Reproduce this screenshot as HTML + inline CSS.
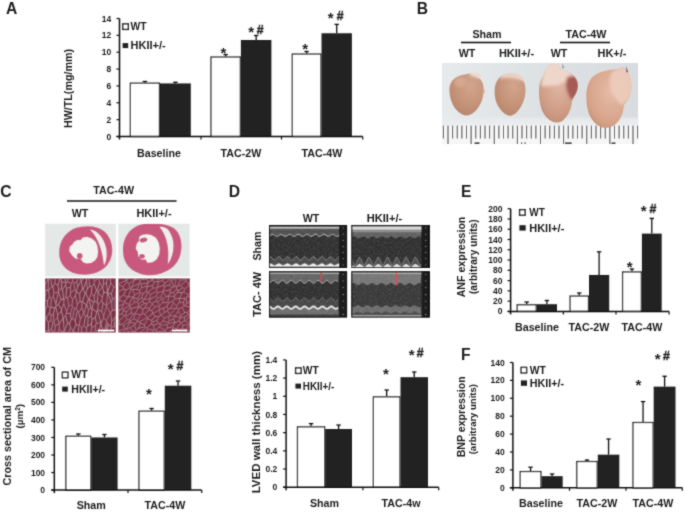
<!DOCTYPE html>
<html><head><meta charset="utf-8"><title>Figure</title>
<style>
html,body{margin:0;padding:0;background:#fff;}
body{width:685px;height:520px;overflow:hidden;font-family:"Liberation Sans",Arial,sans-serif;}
svg{display:block}
</style></head><body>
<svg width="685" height="520" viewBox="0 0 685 520" font-family="Liberation Sans, Arial, sans-serif">
<defs><filter id="soft" x="0" y="0" width="100%" height="100%" filterUnits="userSpaceOnUse"><feConvolveMatrix order="3" kernelMatrix="0.03 0.09 0.03 0.09 0.52 0.09 0.03 0.09 0.03" edgeMode="duplicate" preserveAlpha="false"/></filter></defs>
<rect width="685" height="520" fill="#fff"/>
<g filter="url(#soft)">
<text transform="translate(6 13.8) scale(0.95 1)" font-size="16.5" font-weight="bold" fill="#1c1c1c">A</text>
<line x1="144.9" y1="82.55714285714285" x2="144.9" y2="81.5" stroke="#111" stroke-width="1.3"/>
<line x1="142.70000000000002" y1="81.5" x2="147.1" y2="81.5" stroke="#111" stroke-width="1.3"/>
<rect x="130.40" y="83.16" width="29.00" height="53.34" fill="#fff" stroke="#111" stroke-width="1.2"/>
<line x1="175.4" y1="83.4" x2="175.4" y2="82.3" stroke="#111" stroke-width="1.3"/>
<line x1="173.20000000000002" y1="82.3" x2="177.6" y2="82.3" stroke="#111" stroke-width="1.3"/>
<rect x="160.00" y="83.40" width="30.80" height="53.10" fill="#242424" stroke="#242424" stroke-width="0"/>
<line x1="225.65" y1="56.42857142857143" x2="225.65" y2="54.5" stroke="#111" stroke-width="1.3"/>
<line x1="223.45000000000002" y1="54.5" x2="227.85" y2="54.5" stroke="#111" stroke-width="1.3"/>
<rect x="211.00" y="57.03" width="29.30" height="79.47" fill="#fff" stroke="#111" stroke-width="1.2"/>
<line x1="256.15" y1="39.99285714285715" x2="256.15" y2="35.5" stroke="#111" stroke-width="1.3"/>
<line x1="253.95" y1="35.5" x2="258.34999999999997" y2="35.5" stroke="#111" stroke-width="1.3"/>
<rect x="240.90" y="39.99" width="30.50" height="96.51" fill="#242424" stroke="#242424" stroke-width="0"/>
<line x1="306.6" y1="53.47857142857143" x2="306.6" y2="51.5" stroke="#111" stroke-width="1.3"/>
<line x1="304.40000000000003" y1="51.5" x2="308.8" y2="51.5" stroke="#111" stroke-width="1.3"/>
<rect x="292.30" y="54.08" width="28.60" height="82.42" fill="#fff" stroke="#111" stroke-width="1.2"/>
<line x1="336.7" y1="33.25" x2="336.7" y2="24.4" stroke="#111" stroke-width="1.3"/>
<line x1="334.5" y1="24.4" x2="338.9" y2="24.4" stroke="#111" stroke-width="1.3"/>
<rect x="321.50" y="33.25" width="30.40" height="103.25" fill="#242424" stroke="#242424" stroke-width="0"/>
<line x1="119.5" y1="18.5" x2="119.5" y2="139.5" stroke="#111" stroke-width="1.5"/>
<line x1="116.5" y1="136.5" x2="362.7" y2="136.5" stroke="#111" stroke-width="1.5"/>
<line x1="116.5" y1="136.5" x2="119.5" y2="136.5" stroke="#111" stroke-width="1.2"/>
<text x="111.3" y="139.56" font-size="8.5" font-weight="bold" text-anchor="end" fill="#1c1c1c" >0</text>
<line x1="116.5" y1="119.64285714285714" x2="119.5" y2="119.64285714285714" stroke="#111" stroke-width="1.2"/>
<text x="111.3" y="122.70285714285714" font-size="8.5" font-weight="bold" text-anchor="end" fill="#1c1c1c" >2</text>
<line x1="116.5" y1="102.78571428571428" x2="119.5" y2="102.78571428571428" stroke="#111" stroke-width="1.2"/>
<text x="111.3" y="105.84571428571428" font-size="8.5" font-weight="bold" text-anchor="end" fill="#1c1c1c" >4</text>
<line x1="116.5" y1="85.92857142857143" x2="119.5" y2="85.92857142857143" stroke="#111" stroke-width="1.2"/>
<text x="111.3" y="88.98857142857143" font-size="8.5" font-weight="bold" text-anchor="end" fill="#1c1c1c" >6</text>
<line x1="116.5" y1="69.07142857142857" x2="119.5" y2="69.07142857142857" stroke="#111" stroke-width="1.2"/>
<text x="111.3" y="72.13142857142857" font-size="8.5" font-weight="bold" text-anchor="end" fill="#1c1c1c" >8</text>
<line x1="116.5" y1="52.21428571428571" x2="119.5" y2="52.21428571428571" stroke="#111" stroke-width="1.2"/>
<text x="111.3" y="55.27428571428571" font-size="8.5" font-weight="bold" text-anchor="end" fill="#1c1c1c" >10</text>
<line x1="116.5" y1="35.35714285714286" x2="119.5" y2="35.35714285714286" stroke="#111" stroke-width="1.2"/>
<text x="111.3" y="38.41714285714286" font-size="8.5" font-weight="bold" text-anchor="end" fill="#1c1c1c" >12</text>
<line x1="116.5" y1="18.5" x2="119.5" y2="18.5" stroke="#111" stroke-width="1.2"/>
<text x="111.3" y="21.56" font-size="8.5" font-weight="bold" text-anchor="end" fill="#1c1c1c" >14</text>
<line x1="201" y1="136.5" x2="201" y2="139.5" stroke="#111" stroke-width="1.2"/>
<line x1="281.5" y1="136.5" x2="281.5" y2="139.5" stroke="#111" stroke-width="1.2"/>
<line x1="362.7" y1="136.5" x2="362.7" y2="139.5" stroke="#111" stroke-width="1.2"/>
<text transform="translate(71.8 88.5) rotate(-90)" font-size="10.7" font-weight="bold" text-anchor="middle" fill="#1c1c1c">HW/TL(mg/mm)</text>
<text x="159" y="157" font-size="10.7" font-weight="bold" text-anchor="middle" fill="#1c1c1c" >Baseline</text>
<text x="241" y="157" font-size="10.7" font-weight="bold" text-anchor="middle" fill="#1c1c1c" >TAC-2W</text>
<text x="322" y="157" font-size="10.7" font-weight="bold" text-anchor="middle" fill="#1c1c1c" >TAC-4W</text>
<rect x="122.80" y="23.90" width="5.50" height="5.50" fill="#fff" stroke="#111" stroke-width="1.35"/>
<text x="130.5" y="30" font-size="10.3" font-weight="bold" text-anchor="start" fill="#1c1c1c" >WT</text>
<rect x="122.60" y="43.10" width="5.60" height="5.00" fill="#242424" stroke="#242424" stroke-width="0"/>
<text x="130.5" y="49" font-size="11" font-weight="bold" text-anchor="start" fill="#1c1c1c" >HKII+/-</text>
<text x="223.3" y="58.3" font-size="15" font-weight="bold" text-anchor="middle" fill="#1c1c1c" >*</text>
<text x="251.1" y="36.9" font-size="15" font-weight="bold" text-anchor="middle" fill="#1c1c1c" >*</text>
<text x="260.2" y="33.6" font-size="12.3" font-weight="bold" text-anchor="middle" fill="#1c1c1c" stroke="#222" stroke-width="0.35">#</text>
<text x="305.2" y="54.2" font-size="15" font-weight="bold" text-anchor="middle" fill="#1c1c1c" >*</text>
<text x="330.6" y="23.4" font-size="15" font-weight="bold" text-anchor="middle" fill="#1c1c1c" >*</text>
<text x="340.1" y="20.1" font-size="12.3" font-weight="bold" text-anchor="middle" fill="#1c1c1c" stroke="#222" stroke-width="0.35">#</text>
<text transform="translate(416.8 13.8) scale(0.95 1)" font-size="16.5" font-weight="bold" fill="#1c1c1c">B</text>
<text x="487" y="37.5" font-size="10.7" font-weight="bold" text-anchor="middle" fill="#1c1c1c" >Sham</text>
<line x1="461" y1="42.5" x2="511" y2="42.5" stroke="#111" stroke-width="1.5"/>
<text x="586" y="37.5" font-size="10.7" font-weight="bold" text-anchor="middle" fill="#1c1c1c" >TAC-4W</text>
<line x1="560" y1="42.5" x2="610" y2="42.5" stroke="#111" stroke-width="1.5"/>
<text x="467" y="57.3" font-size="10.7" font-weight="bold" text-anchor="middle" fill="#1c1c1c" >WT</text>
<text x="516.5" y="57.3" font-size="11" font-weight="bold" text-anchor="middle" fill="#1c1c1c" >HKII+/-</text>
<text x="559" y="57.3" font-size="10.7" font-weight="bold" text-anchor="middle" fill="#1c1c1c" >WT</text>
<text x="612" y="57.3" font-size="11" font-weight="bold" text-anchor="middle" fill="#1c1c1c" >HK+/-</text>
<defs>
<clipPath id="clipB"><rect x="442" y="62.8" width="196.3" height="81.2"/></clipPath>
<filter id="blurB" x="-5%" y="-5%" width="110%" height="110%"><feGaussianBlur stdDeviation="0.55"/></filter>
<filter id="blurB2" x="-20%" y="-20%" width="140%" height="140%"><feGaussianBlur stdDeviation="1.6"/></filter>
<linearGradient id="bgB" x1="0" y1="0" x2="1" y2="0"><stop offset="0" stop-color="#e6eaed"/><stop offset="0.5" stop-color="#dde1e4"/><stop offset="1" stop-color="#d9dcdf"/></linearGradient>
<radialGradient id="h1" cx="0.62" cy="0.3" r="0.75"><stop offset="0" stop-color="#d3a58c"/><stop offset="0.55" stop-color="#c6957b"/><stop offset="1" stop-color="#b88569"/></radialGradient>
<radialGradient id="h3" cx="0.5" cy="0.35" r="0.75"><stop offset="0" stop-color="#e0b7a4"/><stop offset="0.55" stop-color="#d2a08a"/><stop offset="1" stop-color="#bf8a70"/></radialGradient>
<radialGradient id="h4" cx="0.55" cy="0.4" r="0.75"><stop offset="0" stop-color="#e6bca7"/><stop offset="0.6" stop-color="#d9a68d"/><stop offset="1" stop-color="#c89073"/></radialGradient>
</defs>
<g clip-path="url(#clipB)">
<rect x="442" y="62.8" width="196.3" height="81.2" fill="url(#bgB)"/>
<rect x="442" y="123.5" width="196.3" height="21" fill="#f6f6f6"/>
<g filter="url(#blurB2)"><rect x="440" y="118" width="200" height="7" fill="#e9ebec"/></g>
<g filter="url(#blurB)">
<line x1="443.38" y1="125.6" x2="443.38" y2="138.5" stroke="#383838" stroke-width="1.0"/>
<line x1="448.00" y1="125.6" x2="448.00" y2="144" stroke="#383838" stroke-width="1.0"/>
<line x1="452.62" y1="125.6" x2="452.62" y2="138.5" stroke="#383838" stroke-width="1.0"/>
<line x1="457.25" y1="125.6" x2="457.25" y2="138.5" stroke="#383838" stroke-width="1.0"/>
<line x1="461.88" y1="125.6" x2="461.88" y2="138.5" stroke="#383838" stroke-width="1.0"/>
<line x1="466.50" y1="125.6" x2="466.50" y2="138.5" stroke="#383838" stroke-width="1.0"/>
<line x1="471.12" y1="125.6" x2="471.12" y2="144" stroke="#383838" stroke-width="1.0"/>
<line x1="475.75" y1="125.6" x2="475.75" y2="138.5" stroke="#383838" stroke-width="1.0"/>
<line x1="480.38" y1="125.6" x2="480.38" y2="138.5" stroke="#383838" stroke-width="1.0"/>
<line x1="485.00" y1="125.6" x2="485.00" y2="138.5" stroke="#383838" stroke-width="1.0"/>
<line x1="489.62" y1="125.6" x2="489.62" y2="138.5" stroke="#383838" stroke-width="1.0"/>
<line x1="494.25" y1="125.6" x2="494.25" y2="144" stroke="#383838" stroke-width="1.0"/>
<line x1="498.88" y1="125.6" x2="498.88" y2="138.5" stroke="#383838" stroke-width="1.0"/>
<line x1="503.50" y1="125.6" x2="503.50" y2="138.5" stroke="#383838" stroke-width="1.0"/>
<line x1="508.12" y1="125.6" x2="508.12" y2="138.5" stroke="#383838" stroke-width="1.0"/>
<line x1="512.75" y1="125.6" x2="512.75" y2="138.5" stroke="#383838" stroke-width="1.0"/>
<line x1="517.38" y1="125.6" x2="517.38" y2="144" stroke="#383838" stroke-width="1.0"/>
<line x1="522.00" y1="125.6" x2="522.00" y2="138.5" stroke="#383838" stroke-width="1.0"/>
<line x1="526.62" y1="125.6" x2="526.62" y2="138.5" stroke="#383838" stroke-width="1.0"/>
<line x1="531.25" y1="125.6" x2="531.25" y2="138.5" stroke="#383838" stroke-width="1.0"/>
<line x1="535.88" y1="125.6" x2="535.88" y2="138.5" stroke="#383838" stroke-width="1.0"/>
<line x1="540.50" y1="125.6" x2="540.50" y2="144" stroke="#383838" stroke-width="1.0"/>
<line x1="545.12" y1="125.6" x2="545.12" y2="138.5" stroke="#383838" stroke-width="1.0"/>
<line x1="549.75" y1="125.6" x2="549.75" y2="138.5" stroke="#383838" stroke-width="1.0"/>
<line x1="554.38" y1="125.6" x2="554.38" y2="138.5" stroke="#383838" stroke-width="1.0"/>
<line x1="559.00" y1="125.6" x2="559.00" y2="138.5" stroke="#383838" stroke-width="1.0"/>
<line x1="563.62" y1="125.6" x2="563.62" y2="144" stroke="#383838" stroke-width="1.0"/>
<line x1="568.25" y1="125.6" x2="568.25" y2="138.5" stroke="#383838" stroke-width="1.0"/>
<line x1="572.88" y1="125.6" x2="572.88" y2="138.5" stroke="#383838" stroke-width="1.0"/>
<line x1="577.50" y1="125.6" x2="577.50" y2="138.5" stroke="#383838" stroke-width="1.0"/>
<line x1="582.12" y1="125.6" x2="582.12" y2="138.5" stroke="#383838" stroke-width="1.0"/>
<line x1="586.75" y1="125.6" x2="586.75" y2="144" stroke="#383838" stroke-width="1.0"/>
<line x1="591.38" y1="125.6" x2="591.38" y2="138.5" stroke="#383838" stroke-width="1.0"/>
<line x1="596.00" y1="125.6" x2="596.00" y2="138.5" stroke="#383838" stroke-width="1.0"/>
<line x1="600.62" y1="125.6" x2="600.62" y2="138.5" stroke="#383838" stroke-width="1.0"/>
<line x1="605.25" y1="125.6" x2="605.25" y2="138.5" stroke="#383838" stroke-width="1.0"/>
<line x1="609.88" y1="125.6" x2="609.88" y2="144" stroke="#383838" stroke-width="1.0"/>
<line x1="614.50" y1="125.6" x2="614.50" y2="138.5" stroke="#383838" stroke-width="1.0"/>
<line x1="619.12" y1="125.6" x2="619.12" y2="138.5" stroke="#383838" stroke-width="1.0"/>
<line x1="623.75" y1="125.6" x2="623.75" y2="138.5" stroke="#383838" stroke-width="1.0"/>
<line x1="628.38" y1="125.6" x2="628.38" y2="138.5" stroke="#383838" stroke-width="1.0"/>
<line x1="633.00" y1="125.6" x2="633.00" y2="144" stroke="#383838" stroke-width="1.0"/>
<line x1="637.62" y1="125.6" x2="637.62" y2="138.5" stroke="#383838" stroke-width="1.0"/>
<rect x="474.5" y="142.3" width="5" height="2" fill="#444"/>
<rect x="477.5" y="142.3" width="1.2" height="2" fill="#444"/>
<rect x="521" y="142.3" width="1.2" height="2" fill="#444"/>
<rect x="524.5" y="142.3" width="1.2" height="2" fill="#444"/>
<rect x="565" y="142.3" width="6" height="2" fill="#444"/>
<rect x="570.5" y="142.3" width="1.2" height="2" fill="#444"/>
<rect x="611.5" y="142.3" width="4" height="2" fill="#444"/>
</g>
<g filter="url(#blurB)">
<clipPath id="c1"><path d="M465,74.4 C469,72.8 474,73 476.5,75.8 C481.5,78.5 484,84 483.7,91 C483.5,99 480,106.5 475.5,111 C472,114.5 469,115.6 466.5,115.5 C461,115 455.5,110.5 452.5,104 C450.2,99 449.3,94 449.4,89 C449.6,80.5 456,75.5 465,74.4 Z"/></clipPath><clipPath id="c2"><path d="M508,73.6 C514,72.6 519.5,75 522,78.5 C525,82 526,88 525.4,93 C524.6,101 521,108 517,112 C514.5,114.5 512.5,115.8 510,115.8 C505,115.3 500,110 497,104 C495,99.5 494.5,95 494.6,90.5 C494.8,81 500,74.6 508,73.6 Z"/></clipPath>
<path d="M465,74.4 C469,72.8 474,73 476.5,75.8 C481.5,78.5 484,84 483.7,91 C483.5,99 480,106.5 475.5,111 C472,114.5 469,115.6 466.5,115.5 C461,115 455.5,110.5 452.5,104 C450.2,99 449.3,94 449.4,89 C449.6,80.5 456,75.5 465,74.4 Z" fill="url(#h1)"/>
<g clip-path="url(#c1)"><g filter="url(#blurB2)">
<path d="M447,95 C450,108 458,116 468,118 L445,120Z" fill="#b07c62"/>
<path d="M470,70 L482,72 L484,80 C479,78 474,76.5 470,76Z" fill="#f0dcd4"/>
<ellipse cx="460" cy="82" rx="6" ry="5" fill="#d8ac95" opacity="0.8"/>
</g></g>
<path d="M471.5,74.2 C473,72 477.5,71.8 480,74.5 C481.5,76 481,78 479.5,78.5 C477,76.5 474,75 471.5,74.2Z" fill="#eedad2"/>
<path d="M482.5,88 C484.5,88.5 485.3,91 484.2,93.5 C483.6,92 483.2,90 482.5,88Z" fill="#d9a596"/>
<path d="M508,73.6 C514,72.6 519.5,75 522,78.5 C525,82 526,88 525.4,93 C524.6,101 521,108 517,112 C514.5,114.5 512.5,115.8 510,115.8 C505,115.3 500,110 497,104 C495,99.5 494.5,95 494.6,90.5 C494.8,81 500,74.6 508,73.6 Z" fill="url(#h1)"/>
<g clip-path="url(#c2)"><g filter="url(#blurB2)">
<path d="M492,96 C495,108 502,116 511,118 L490,120Z" fill="#b07c62"/>
<path d="M500,70 L524,71 L526,82 C519,78.5 509,77 500,78.5Z" fill="#ecd2c6"/>
</g></g>
<path d="M503,75.3 C508,72 517,72.2 521.5,76.5 C523.5,78.5 524.5,80.5 524,81.5 C519,77.5 511,76 503,75.3Z" fill="#ead0c5"/>
<clipPath id="c3"><path d="M552.5,64 C556,63.3 559,65.5 561,69.5 C566,70.5 571,72.5 574.5,76.5 C578,80 578.6,86 577,91 C575.5,95.5 573,98 572,101 C571.5,109 568,116 563.5,120 C561,122.2 558.5,122.8 555.5,122.5 C550,121.6 544.5,116.5 541.8,109.5 C539.8,104 539,98 539,93 C538.7,86 540,80 543.5,76 C545,70 548,65 552.5,64 Z"/></clipPath><clipPath id="c4"><path d="M620,68.2 C624,67 628,69 628.5,73 C631,78 632,85 631.2,91 C630,97 627,101.5 624,105 C623.5,113 620.5,121 614.5,125 C611,127.6 607.5,128.2 604,127.7 C598,126.8 592,121.5 589,113.5 C587,107.5 586.2,101 586.3,96 C586.2,88 588.5,81 592.5,77 C598,71 610,70 620,68.2 Z"/></clipPath>
<path d="M552.5,64 C556,63.3 559,65.5 561,69.5 C566,70.5 571,72.5 574.5,76.5 C578,80 578.6,86 577,91 C575.5,95.5 573,98 572,101 C571.5,109 568,116 563.5,120 C561,122.2 558.5,122.8 555.5,122.5 C550,121.6 544.5,116.5 541.8,109.5 C539.8,104 539,98 539,93 C538.7,86 540,80 543.5,76 C545,70 548,65 552.5,64 Z" fill="url(#h3)"/>
<g clip-path="url(#c3)"><g filter="url(#blurB2)">
<path d="M545,60 L566,60 L573,74 C566,84 556,87 541,86 Z" fill="#efd6cb"/>
<path d="M567,77 C572,75 578,77 580,83 C581,89 577,96 572,100 C567.5,95 565,86 567,77 Z" fill="#a55a52"/>
<path d="M538,100 C541,112 548,121 556,124 L536,126Z" fill="#b27e66"/>
</g></g>
<path d="M620,68.2 C624,67 628,69 628.5,73 C631,78 632,85 631.2,91 C630,97 627,101.5 624,105 C623.5,113 620.5,121 614.5,125 C611,127.6 607.5,128.2 604,127.7 C598,126.8 592,121.5 589,113.5 C587,107.5 586.2,101 586.3,96 C586.2,88 588.5,81 592.5,77 C598,71 610,70 620,68.2 Z" fill="url(#h4)"/>
<g clip-path="url(#c4)"><g filter="url(#blurB2)">
<path d="M612,72 C618,66 628,64 634,70 L634,92 C630,98 626,102 622,105 C616,101 611,93 610,85 C609.5,80 610,75 612,72Z" fill="#efcfbf" opacity="0.85"/>
<path d="M585,100 C588,115 596,126 605,129 L583,131Z" fill="#c08a6c"/>
</g></g>
<path d="M626,66 L628.2,72 L626.5,72.5Z" fill="#556"/>
<path d="M562.5,63 L564,68 L562.5,68.5Z" fill="#778"/>
</g>
</g>
<text transform="translate(0.2 196.9) scale(0.95 1)" font-size="16.5" font-weight="bold" fill="#1c1c1c">C</text>
<text x="113.6" y="194" font-size="10.7" font-weight="bold" text-anchor="middle" fill="#1c1c1c" >TAC-4W</text>
<line x1="67" y1="201" x2="176.5" y2="201" stroke="#111" stroke-width="1.5"/>
<text x="80" y="217" font-size="10.7" font-weight="bold" text-anchor="middle" fill="#1c1c1c" >WT</text>
<text x="154" y="217" font-size="11" font-weight="bold" text-anchor="middle" fill="#1c1c1c" >HKII+/-</text>
<defs>
<filter id="blurC" x="-5%" y="-5%" width="110%" height="110%"><feGaussianBlur stdDeviation="0.5"/></filter>
<filter id="texL" x="0" y="0" width="100%" height="100%"><feTurbulence type="turbulence" baseFrequency="0.26 0.10" numOctaves="1" seed="4"/><feColorMatrix type="matrix" values="0 0 0 0 0.74  0 0 0 0 0.64  0 0 0 0 0.69  -9 0 0 0 1.0"/><feGaussianBlur stdDeviation="0.35"/></filter>
<filter id="texR" x="0" y="0" width="100%" height="100%"><feTurbulence type="turbulence" baseFrequency="0.17 0.19" numOctaves="1" seed="11"/><feColorMatrix type="matrix" values="0 0 0 0 0.72  0 0 0 0 0.60  0 0 0 0 0.66  -9 0 0 0 0.95"/><feGaussianBlur stdDeviation="0.35"/></filter>
<filter id="texRing" x="0" y="0" width="100%" height="100%"><feTurbulence type="fractalNoise" baseFrequency="0.5" numOctaves="2" seed="2"/><feColorMatrix type="matrix" values="0 0 0 0 1  0 0 0 0 0.85  0 0 0 0 0.9  0 0 0 1.2 -0.45"/><feComposite in2="SourceGraphic" operator="in"/></filter>
<filter id="mott" x="0" y="0" width="100%" height="100%"><feTurbulence type="fractalNoise" baseFrequency="0.09 0.07" numOctaves="2" seed="9"/><feColorMatrix type="matrix" values="0 0 0 0 0.25  0 0 0 0 0.05  0 0 0 0 0.1  0 0 0 1.6 -0.62"/></filter>
<clipPath id="cC1"><rect x="45.2" y="223.7" width="70.7" height="52.9"/></clipPath>
<clipPath id="cC2"><rect x="118.4" y="223.7" width="71.3" height="52.9"/></clipPath>
</defs>
<g clip-path="url(#cC1)"><rect x="45" y="223" width="72" height="54" fill="#e4e8e6"/>
<g filter="url(#blurC)">
<path d="M85,226.4 C92,225.6 99,227 104,231 C109.5,235.5 112.5,243 112.3,251 C112,259 108,266.5 101,270.5 C95,274 88,275 81,274.6 C73,274 66,270.5 62,264 C58.5,258 58.5,250 60.5,243.5 C63,236 69,230 77,227.5 C79.5,226.8 82,226.5 85,226.4 Z" fill="#c9587f"/>
<path d="M77.5,240 L80.5,240.3 L83,237.6 L87.5,237 L92,238.8 L95.5,241.8 L97.3,246 L98,251 L97.5,256.5 L95.2,260.3 L91.5,262.8 L87,263.6 L83.2,262.2 L81,259.2 L75.5,258.6 L72,255.3 L69.3,251 L69.8,246.8 L72.5,244.6 L74,242 Z" fill="#f3f3f1"/>
<circle cx="79.7" cy="256" r="2.9" fill="#c9587f"/>
<path d="M90,229.6 C98,230.6 104.6,239.5 106.2,249 C107.3,256 106.2,261.5 104,265.4 C103.2,259 102.2,252 100,246 C97.8,240 94.6,234 90,229.6 Z" fill="#efefed"/>
</g></g>
<g clip-path="url(#cC2)"><rect x="118" y="223" width="72" height="54" fill="#e4e8e6"/>
<g filter="url(#blurC)">
<path d="M150,223.6 C158,223 167,224 173,227.5 C178.5,231 181.5,238 181.5,246 C181.5,254 179,261 174,266 C168,271.5 160,275 151,275.3 C142,275.5 133,272 128,266 C123.5,260.5 122.5,253 123,246.5 C123.8,238.5 128,231 135,227 C139.5,224.5 145,223.8 150,223.6 Z" fill="#c9587f"/>
<path d="M139.5,236.4 L143,234.8 L147.3,234.2 L151.6,235.2 L155.8,237.8 L158.4,242 L159.7,248 L159.2,254.3 L156.7,259.2 L152.4,262.3 L147.5,262.8 L145.8,259.6 L141.6,259.6 L138.4,256.4 L137.9,252 L135.8,248.5 L136.8,243.8 L139,241 Z" fill="#f3f3f1"/>
<ellipse cx="143.5" cy="240" rx="4" ry="2.3" transform="rotate(-15 143.5 240)" fill="#c9587f"/>
<ellipse cx="142" cy="256.3" rx="2.8" ry="2.3" fill="#c9587f"/>
<path d="M159.6,226.8 C163,226.6 167,228 169,231 C172,235.5 173.2,240 173.4,245 C173.6,252 171.6,258.5 167.8,264 C168.6,257 168.8,250 167.4,244 C166,237 163.4,231.5 159.6,226.8 Z" fill="#efefed"/>
</g></g>
<clipPath id="cC3"><rect x="45.2" y="278.6" width="70.6" height="53.8"/></clipPath><clipPath id="cC4"><rect x="118.4" y="278.6" width="71.4" height="53.8"/></clipPath>
<g clip-path="url(#cC3)"><rect x="45" y="278" width="72" height="55" fill="#7e2f45"/>
<path d="M120.2,289.7L116.8,287.7M116.8,287.7L119.1,280.3M119.1,280.3L116.8,275.6M116.5,287.9L116.8,287.7M116.5,287.9L115.5,286.8M115.5,286.8L115.3,277.0M58.4,291.9L53.9,293.1M58.4,291.9L58.4,292.0M53.2,296.5L55.9,303.7M53.2,296.5L53.9,293.1M58.4,292.0L55.9,303.7M110.8,301.3L107.9,293.2M110.8,301.3L111.7,301.2M111.7,301.2L112.4,299.5M112.4,299.5L111.5,293.3M107.9,293.2L111.5,293.3M110.8,301.3L106.6,305.9M106.4,305.4L106.6,305.9M106.4,305.4L107.5,292.9M107.9,293.2L107.5,292.9M114.9,297.9L112.4,299.5M114.9,297.9L115.6,296.5M115.6,296.5L116.5,287.9M115.5,286.8L113.8,287.0M111.5,293.3L113.8,287.0M110.4,279.3L110.7,283.0M110.4,279.3L114.4,275.6M113.8,287.0L110.7,283.0M115.6,296.5L117.8,299.4M54.9,283.1L53.0,286.8M54.9,283.1L58.0,285.8M53.0,286.8L53.9,293.1M58.4,291.9L58.7,290.8M58.0,285.8L58.7,290.8M87.7,325.5L88.2,317.3M87.7,325.5L91.4,324.4M88.2,317.3L91.1,316.8M91.1,316.8L92.1,319.2M91.4,324.4L92.1,319.2M86.5,328.4L84.0,325.6M86.5,328.4L87.7,325.5M84.0,325.6L85.4,316.4M85.4,316.4L87.4,316.0M87.4,316.0L88.2,317.3M92.0,308.9L91.1,316.8M92.0,308.9L96.8,311.8M96.8,311.8L95.3,317.5M95.3,317.5L92.1,319.2M88.5,309.8L86.7,304.8M88.5,309.8L90.8,308.0M90.8,308.0L89.1,298.9M86.7,304.8L88.4,299.1M88.4,299.1L89.1,298.9M86.5,304.9L86.7,304.8M86.5,304.9L83.8,313.1M83.8,313.1L83.8,313.3M83.8,313.3L85.4,316.4M87.4,316.0L88.5,309.8M92.0,308.9L92.0,308.7M92.0,308.7L90.8,308.0M93.6,302.3L89.1,298.9M93.6,302.3L92.0,308.7M89.1,298.9L89.1,298.9M107.5,292.9L107.4,292.7M110.7,283.0L107.6,292.2M107.4,292.7L107.6,292.2M55.5,276.3L54.9,283.1M51.8,286.6L50.6,277.7M51.8,286.6L53.0,286.8M50.6,277.7L51.0,276.5M51.8,286.6L48.5,290.5M53.2,296.5L51.3,298.5M48.5,290.5L49.3,296.6M51.3,298.5L49.3,296.6M48.5,290.5L48.0,290.1M50.6,277.7L48.6,278.9M48.0,290.1L48.6,278.9M45.6,272.8L48.3,278.7M48.3,278.7L48.6,278.9M58.4,292.0L61.1,299.5M56.0,306.0L58.4,304.5M56.0,306.0L55.9,303.7M61.1,299.5L58.4,304.5M62.5,289.3L61.2,288.6M62.5,289.3L63.7,299.4M58.7,290.8L61.2,288.6M61.1,299.5L63.7,299.4M86.7,331.9L85.0,336.0M86.7,331.9L86.5,328.4M85.0,336.0L81.7,331.6M84.0,325.6L81.7,327.3M81.7,327.3L81.7,331.6M54.7,332.3L55.1,326.0M54.7,332.3L57.0,334.3M59.2,323.6L59.2,329.4M59.2,323.6L59.2,323.6M55.1,326.0L59.2,323.6M57.0,334.3L59.2,329.4M56.0,306.0L55.7,306.9M51.3,298.5L50.8,307.4M50.8,307.4L54.8,307.8M54.8,307.8L55.7,306.9M55.1,326.0L53.8,321.3M59.2,323.6L57.5,318.0M57.5,318.0L53.8,321.3M85.1,293.0L83.1,289.5M85.1,293.0L82.5,301.8M79.7,293.6L80.0,301.1M79.7,293.6L82.5,289.0M82.5,289.0L83.1,289.5M80.0,301.1L82.0,302.4M82.0,302.4L82.5,301.8M85.8,292.9L85.1,293.0M85.8,292.9L87.4,288.9M87.4,288.9L86.4,280.9M86.4,280.9L83.1,289.5M86.5,304.9L82.5,301.8M85.8,292.9L88.4,299.1M86.7,277.7L85.0,276.0M86.7,277.7L86.4,280.9M85.0,276.0L81.4,281.2M81.4,281.2L82.5,289.0M81.9,308.1L83.8,313.1M81.9,308.1L82.0,302.4M59.2,323.6L63.3,318.1M63.3,318.1L63.3,318.0M57.7,315.1L57.5,318.0M57.7,315.1L61.3,311.1M63.3,318.0L61.3,311.1M58.4,304.5L61.5,309.4M55.7,306.9L57.7,315.1M61.3,311.1L61.5,309.4M91.4,293.5L94.1,296.4M91.4,293.5L89.1,298.9M93.6,302.3L94.3,301.2M94.1,296.4L94.3,301.2M103.1,303.1L101.7,311.5M103.1,303.1L101.8,300.4M101.8,300.4L98.2,304.6M101.7,311.5L97.8,309.7M97.8,309.7L98.2,304.6M106.4,305.4L103.1,303.1M106.6,305.9L106.6,306.3M103.7,316.2L106.6,306.3M103.7,316.2L101.7,311.5M96.8,311.8L97.5,310.5M97.5,310.5L97.8,309.7M94.3,301.2L97.3,302.5M97.3,302.5L98.2,304.6M114.9,297.9L115.1,310.1M111.7,301.2L112.2,310.4M112.2,310.4L115.1,310.1M106.6,306.3L110.3,312.8M110.3,312.8L110.8,312.7M112.2,310.4L110.8,312.7M117.8,299.4L116.2,311.0M115.1,310.1L116.2,311.0M117.2,312.2L116.9,312.4M116.2,311.0L116.9,312.4M103.7,316.2L103.6,317.9M110.3,312.8L106.5,320.5M106.5,320.5L103.6,317.9M97.3,302.5L98.1,292.6M101.8,300.4L102.3,297.2M98.1,292.6L102.3,297.2M107.4,292.7L103.7,292.5M102.3,297.2L103.7,292.5M77.4,304.4L75.4,295.5M77.4,304.4L80.0,301.1M79.7,293.6L76.3,292.0M75.4,295.5L76.3,292.0M81.0,280.9L77.8,286.5M81.0,280.9L81.4,281.2M77.8,286.5L76.3,292.0M76.3,292.0L76.3,292.0M48.3,278.7L44.8,285.6M43.1,277.2L44.8,285.6M48.0,290.1L46.0,290.5M46.0,290.5L44.9,289.1M44.8,285.6L44.9,289.1M54.7,332.3L53.3,332.4M53.3,332.4L50.9,342.9M50.9,315.7L53.4,314.3M50.9,315.7L50.9,320.4M53.4,314.3L53.7,321.3M50.9,320.4L52.8,322.4M52.8,322.4L53.7,321.3M50.8,307.4L50.3,308.0M54.8,307.8L53.4,314.3M49.6,312.5L50.3,308.0M49.6,312.5L50.9,315.7M48.4,322.4L50.9,320.4M48.4,322.4L46.2,318.3M49.6,312.5L46.2,318.3M53.8,321.3L53.7,321.3M53.3,332.4L51.5,329.4M51.5,329.4L52.8,322.4M81.0,280.9L79.2,275.9M77.8,286.5L76.7,282.1M76.7,282.1L79.2,275.9M63.7,299.4L64.0,299.8M61.5,309.4L63.8,303.8M64.0,299.8L63.8,303.8M80.0,341.6L81.7,331.6M97.0,266.3L97.7,278.1M97.7,278.1L99.0,278.4M99.0,278.4L101.7,274.3M115.2,317.2L111.7,321.4M115.2,317.2L114.3,326.7M111.7,321.4L111.1,326.0M114.3,326.7L111.3,327.2M111.3,327.2L111.1,326.0M110.8,312.7L111.7,321.4M116.9,313.0L115.2,317.2M116.9,313.0L116.9,312.4M116.9,313.0L118.0,323.3M116.4,327.9L118.0,323.3M116.4,327.9L114.3,326.7M107.5,323.2L108.6,324.9M107.5,323.2L105.2,334.3M108.6,324.9L105.8,334.2M106.8,321.9L106.5,320.5M106.8,321.9L107.5,323.2M111.1,326.0L108.6,324.9M103.9,334.6L103.8,333.1M106.8,321.9L103.8,333.1M97.5,310.5L101.0,323.2M95.3,317.5L96.4,323.0M96.4,323.0L101.0,323.2M103.6,317.9L101.0,323.2M103.8,333.1L100.9,324.3M100.9,324.3L101.0,323.2M101.0,323.2L101.0,323.2M91.4,324.4L91.8,327.4M96.4,323.0L95.6,325.8M91.8,327.4L95.6,325.8M97.2,290.6L98.0,292.0M97.2,290.6L99.5,282.6M98.0,292.0L102.3,287.2M99.5,282.6L102.3,287.2M96.5,290.4L94.1,296.4M96.5,290.4L97.2,290.6M98.1,292.6L98.0,292.0M103.7,292.5L102.8,287.3M102.8,287.3L102.3,287.2M44.9,289.1L41.3,292.3M49.3,296.6L47.5,301.2M50.3,308.0L47.6,305.6M47.5,301.2L47.6,305.6M46.0,290.5L44.8,299.8M47.5,301.2L44.8,299.8M43.4,302.1L44.8,299.8M43.4,342.3L45.1,331.3M48.5,340.1L48.8,331.2M45.1,331.3L48.5,330.8M48.5,330.8L48.8,331.2M42.9,326.1L45.1,331.3M51.5,329.4L48.8,331.2M42.9,326.1L45.9,318.3M48.4,322.4L48.5,330.8M46.2,318.3L45.9,318.3M116.4,327.9L116.4,328.1M116.4,328.1L120.4,331.7M88.5,276.8L89.9,286.1M92.7,274.1L94.3,282.0M89.9,286.1L91.9,286.8M91.9,286.8L94.0,283.6M94.0,283.6L94.3,282.0M86.7,277.7L88.5,276.8M87.4,288.9L89.9,286.1M97.7,278.1L94.3,282.0M91.4,293.5L91.9,286.8M96.5,290.4L94.0,283.6M99.0,278.4L99.5,282.6M76.9,272.6L72.8,277.2M72.8,277.2L71.4,273.8M58.0,285.8L60.5,276.6M61.2,288.6L61.8,282.5M61.8,282.5L60.5,276.6M76.7,282.1L73.7,283.2M72.8,277.2L72.6,281.0M73.7,283.2L72.6,281.0M76.3,292.0L75.0,289.3M73.7,283.2L75.0,289.3M70.2,295.3L70.5,292.9M70.2,295.3L72.6,299.4M72.6,299.4L75.4,295.5M75.0,289.3L70.5,292.9M66.5,312.9L70.3,313.9M66.5,312.9L66.6,311.4M66.6,311.4L68.7,305.9M68.7,305.9L72.1,304.9M70.3,313.9L72.5,306.6M72.1,304.9L72.5,306.6M63.3,318.0L65.7,315.9M65.7,315.9L66.5,312.9M63.8,303.8L66.6,311.4M64.0,299.8L65.9,297.5M65.9,297.5L67.6,297.9M67.6,297.9L68.7,305.9M70.2,295.3L67.6,297.9M72.6,299.4L72.1,304.9M76.5,308.2L74.4,308.5M76.5,308.2L77.4,304.4M74.4,308.5L72.5,306.6M86.7,331.9L88.7,333.9M88.6,341.5L88.7,333.9M91.8,327.4L91.3,331.5M88.7,333.9L91.3,331.5M103.4,285.0L103.3,277.4M103.4,285.0L106.4,282.3M103.3,277.4L107.7,274.6M106.4,282.3L108.9,276.0M101.7,274.3L103.3,277.4M102.8,287.3L103.4,285.0M107.6,292.2L106.4,282.3M110.4,279.3L108.9,276.0M100.9,324.3L98.2,332.8M99.4,338.9L98.2,332.8M44.9,314.2L45.6,308.7M44.9,314.2L42.1,313.5M45.6,308.7L43.1,303.3M45.9,318.3L44.9,314.2M47.6,305.6L45.6,308.7M71.3,339.3L73.1,330.6M75.7,336.3L73.5,330.3M73.1,330.6L73.5,330.3M65.7,315.9L67.6,323.2M67.6,323.2L69.7,323.4M70.3,313.9L71.2,319.2M69.7,323.4L71.2,319.2M74.4,308.5L72.6,318.6M72.6,318.6L71.2,319.2M77.3,311.4L75.2,320.7M77.3,311.4L78.5,312.2M78.5,312.2L80.3,318.9M75.2,320.7L76.0,324.7M76.0,324.7L79.1,325.4M80.3,318.9L79.4,325.1M79.4,325.1L79.1,325.4M76.5,308.2L77.3,311.4M72.6,318.6L75.2,320.7M81.9,308.1L78.5,312.2M83.8,313.3L80.3,318.9M73.1,330.6L70.4,328.1M73.5,330.3L76.0,324.7M70.4,328.1L69.7,323.4M77.7,335.0L79.1,325.4M81.7,327.3L79.4,325.1M68.4,333.0L69.6,340.9M68.4,333.0L70.4,328.1M116.4,328.1L115.8,334.5M111.3,327.2L110.3,335.4M61.8,282.5L65.4,281.8M65.1,274.2L65.4,281.8M70.4,287.3L71.6,283.2M70.4,287.3L66.6,288.3M71.6,283.2L67.2,281.9M66.6,288.3L65.6,285.1M67.2,281.9L65.7,283.4M65.6,285.1L65.7,283.4M72.6,281.0L71.6,283.2M70.5,292.9L70.4,287.3M65.9,297.5L66.6,288.3M70.3,273.8L67.2,281.9M62.5,289.3L65.6,285.1M65.4,281.8L65.7,283.4M95.7,329.2L92.7,334.6M95.7,329.2L97.3,332.8M97.3,332.8L95.5,336.2M95.6,325.8L95.7,329.2M91.3,331.5L92.7,334.6M98.2,332.8L97.3,332.8M66.0,344.3L66.4,333.2M62.6,338.6L63.2,332.2M66.4,333.2L64.5,330.7M63.2,332.2L64.2,330.9M64.5,330.7L64.2,330.9M68.4,333.0L66.4,333.2M59.2,329.4L63.2,332.2M67.6,323.2L64.5,330.7M63.3,318.1L64.2,330.9" stroke="#b3a2a8" stroke-width="0.85" stroke-opacity="0.9" fill="none" filter="url(#blurC)"/><rect x="45" y="278" width="72" height="55" filter="url(#mott)" opacity="0.55"/></g>
<g clip-path="url(#cC4)"><rect x="118" y="278" width="72" height="55" fill="#813147"/>
<path d="M188.2,294.7L192.3,290.2M188.2,294.7L187.9,296.3M196.1,290.8L190.9,297.9M187.9,296.3L190.9,297.9M138.5,328.4L140.5,323.2M138.5,328.4L136.1,329.7M136.1,329.7L134.5,325.3M134.5,325.3L135.5,323.5M135.5,323.5L137.5,321.6M137.5,321.6L139.5,321.8M139.5,321.8L140.5,323.2M144.6,326.8L138.5,328.4M144.6,326.8L144.6,324.6M140.5,323.2L144.6,324.6M155.8,301.2L157.3,298.2M155.8,301.2L157.6,301.8M157.3,298.2L160.8,297.0M157.6,301.8L162.0,298.8M160.8,297.0L162.0,298.8M157.3,298.2L156.0,296.3M156.0,296.3L157.8,292.6M160.8,297.0L163.2,292.5M163.2,292.5L163.3,291.3M157.8,292.6L163.3,291.3M156.7,291.7L157.8,292.6M156.7,291.7L156.8,287.9M163.4,291.2L163.3,291.3M163.4,291.2L164.5,286.3M164.5,286.3L164.0,285.2M164.0,285.2L157.4,287.3M156.8,287.9L157.4,287.3M140.9,284.0L147.9,282.9M140.9,284.0L141.6,287.6M147.9,282.9L146.9,286.1M141.6,287.6L146.9,286.1M147.9,282.9L148.8,281.8M148.8,281.8L152.2,280.2M152.2,280.2L154.5,281.9M152.7,285.7L154.5,281.9M152.7,285.7L147.0,286.5M146.9,286.1L147.0,286.5M141.5,279.6L146.2,278.9M141.5,279.6L144.4,273.8M146.2,278.9L149.1,275.0M140.9,284.0L139.5,283.0M148.8,281.8L146.2,278.9M140.4,280.5L139.5,283.0M140.4,280.5L141.5,279.6M152.2,280.1L152.2,280.2M152.2,280.1L149.1,275.0M155.0,276.3L152.2,280.1M139.5,283.0L138.8,283.5M141.6,287.6L139.4,290.8M139.4,290.8L137.5,289.5M137.5,289.5L138.8,283.5M190.9,297.9L192.1,299.3M179.7,298.4L179.1,302.5M179.7,298.4L185.0,298.3M179.1,302.5L183.4,302.2M183.4,302.2L185.0,298.3M187.9,296.3L186.0,297.7M192.1,299.3L186.9,303.6M186.9,303.6L186.0,297.7M188.2,294.7L183.6,291.9M183.6,291.9L182.6,292.5M179.7,298.4L179.4,298.3M182.6,292.5L179.4,298.3M186.0,297.7L185.0,298.3M141.0,332.2L143.2,336.5M141.0,332.2L137.2,333.5M137.2,333.5L136.5,337.9M179.1,302.5L176.7,305.7M178.8,308.8L182.2,307.5M178.8,308.8L176.7,308.2M183.4,302.2L184.0,305.9M176.7,305.7L176.7,308.2M182.2,307.5L184.0,305.9M186.9,303.6L184.5,305.7M184.0,305.9L184.5,305.7M193.7,299.9L190.5,307.3M184.5,305.7L190.5,307.3M137.5,321.6L137.5,320.5M137.5,320.5L140.6,314.7M139.5,321.8L147.2,317.7M144.4,314.1L147.2,317.7M144.4,314.1L142.1,313.9M142.1,313.9L140.6,314.7M137.5,320.5L133.7,319.0M133.7,319.0L135.3,313.7M140.6,314.7L135.3,313.7M155.3,306.7L151.7,310.5M155.3,306.7L152.1,304.2M149.3,309.9L151.7,310.5M149.3,309.9L149.2,308.2M149.2,308.2L152.1,304.2M155.8,301.2L152.2,303.3M159.1,306.1L155.3,306.7M159.1,306.1L159.5,305.4M157.6,301.8L159.5,305.4M152.2,303.3L152.1,304.2M164.6,283.2L162.6,280.2M164.6,283.2L164.0,285.2M157.4,287.3L158.4,281.8M162.6,280.2L158.4,281.8M152.7,285.7L153.0,288.1M154.5,281.9L157.6,281.5M153.0,288.1L156.8,287.9M158.4,281.8L157.6,281.5M183.6,291.9L185.2,288.6M192.1,287.3L190.6,286.2M190.6,286.2L188.8,285.9M185.2,288.6L188.8,285.9M189.3,276.7L186.6,278.8M184.2,274.0L186.6,278.8M193.4,278.9L188.6,283.2M186.0,281.1L188.6,283.2M186.0,281.1L186.0,279.8M186.0,279.8L186.6,278.8M131.7,273.3L129.3,277.9M129.3,277.9L127.8,278.8M127.8,278.8L126.0,272.1M127.8,278.8L126.7,279.8M122.9,277.0L126.7,279.8M112.2,279.8L117.2,280.2M119.3,273.3L117.2,280.1M117.2,280.2L117.2,280.1M122.9,277.0L117.2,280.1M152.9,313.4L152.8,313.4M152.9,313.4L155.0,316.7M152.8,313.4L147.3,317.8M155.0,316.7L151.6,320.4M151.6,320.4L147.6,318.9M147.6,318.9L147.3,317.8M159.1,306.1L159.5,309.2M159.0,310.0L152.9,313.4M159.0,310.0L159.5,309.2M151.7,310.5L152.8,313.4M159.0,310.0L160.6,315.3M160.6,315.3L159.3,316.3M159.3,316.3L155.0,316.7M144.4,314.1L149.3,309.9M147.2,317.7L147.3,317.8M144.6,324.6L147.6,318.9M159.5,309.2L163.0,308.3M160.6,315.3L161.2,315.2M161.2,315.2L164.6,312.4M163.0,308.3L164.6,312.4M156.1,333.3L148.5,335.3M156.1,333.3L156.0,334.0M136.1,329.7L135.4,331.1M134.5,325.3L129.2,327.9M129.2,327.9L133.8,331.3M133.8,331.3L135.4,331.1M144.6,326.8L145.6,327.6M145.6,327.6L141.0,332.2M137.2,333.5L135.5,331.9M135.4,331.1L135.5,331.9M195.5,311.4L190.0,309.3M196.9,305.9L190.7,307.7M190.7,307.7L190.0,309.3M190.5,307.3L190.7,307.7M182.2,307.5L184.7,312.5M184.7,312.5L187.7,312.3M187.7,312.3L190.0,309.3M178.8,308.8L178.0,311.6M184.7,312.5L181.2,315.3M181.2,315.3L178.0,311.6M176.7,308.2L175.9,308.5M175.9,308.5L169.8,314.5M169.8,314.5L169.4,315.7M178.0,311.6L174.7,316.0M169.4,315.7L174.7,316.0M181.2,315.3L180.1,317.3M180.1,317.3L174.7,316.1M174.7,316.0L174.7,316.1M189.1,330.9L193.3,329.3M189.1,330.9L189.1,336.2M116.4,327.8L119.7,324.3M118.9,321.9L112.9,324.3M118.9,321.9L119.7,324.3M119.0,320.9L115.2,317.8M119.0,320.9L118.9,321.9M119.0,320.9L124.6,315.9M116.4,315.8L117.8,314.7M117.8,314.7L121.6,313.9M121.6,313.9L124.6,315.9M123.4,289.4L123.1,286.7M123.4,289.4L126.0,289.8M123.1,286.7L126.9,281.7M128.8,283.7L126.9,281.7M128.8,283.7L130.0,288.0M126.0,289.8L130.0,288.0M137.5,289.5L132.3,289.5M138.8,283.5L131.5,287.4M132.3,289.5L131.2,289.0M131.5,287.4L130.8,288.0M131.2,289.0L130.8,288.0M119.6,309.6L121.7,308.9M119.6,309.6L116.7,308.0M121.7,308.9L123.8,303.7M123.8,303.7L117.0,306.9M117.8,314.7L119.6,309.6M123.5,309.2L121.7,308.9M123.5,309.2L123.4,310.9M123.4,310.9L121.6,313.9M138.4,307.2L138.8,307.2M138.4,307.2L135.2,313.6M142.1,313.9L143.3,308.9M135.3,313.7L135.2,313.6M138.8,307.2L143.3,308.9M149.2,308.2L144.8,307.9M143.3,308.9L144.8,307.9M153.0,288.1L147.9,292.1M147.0,286.5L146.2,291.8M146.2,291.8L147.9,292.1M150.3,294.4L156.7,291.7M150.3,294.4L148.0,292.3M148.0,292.3L147.9,292.1M165.0,334.2L165.2,333.9M173.7,333.4L169.7,332.5M173.7,333.4L173.9,336.1M165.2,333.9L169.7,332.5M156.4,332.0L156.1,333.3M156.4,332.0L165.3,330.8M165.2,333.9L165.3,330.8M156.4,332.0L156.1,329.8M165.3,330.8L165.5,330.3M165.5,330.3L159.0,326.9M156.1,329.8L159.0,326.9M182.6,292.5L177.7,292.5M177.7,292.5L175.4,294.7M179.4,298.3L174.9,299.0M174.9,299.0L174.6,296.3M175.4,294.7L174.6,296.3M166.5,296.4L163.0,299.1M166.5,296.4L168.5,296.0M168.5,296.0L168.6,296.1M168.6,296.1L167.9,302.3M163.0,299.1L162.9,302.6M162.9,302.6L167.9,302.3M163.2,292.5L166.5,296.4M162.0,298.8L163.0,299.1M163.4,291.2L170.0,289.9M170.0,289.9L170.2,292.9M170.2,292.9L168.5,296.0M175.4,294.7L173.0,292.6M174.6,296.3L168.6,296.1M173.0,292.6L170.2,292.9M159.5,305.4L162.9,302.6M173.4,303.0L170.6,308.3M173.4,303.0L172.7,301.3M172.7,301.3L168.6,302.8M168.6,302.8L166.9,306.4M166.9,306.4L168.3,309.2M170.6,308.3L168.3,309.2M176.7,305.7L173.4,303.0M175.9,308.5L170.6,308.3M174.9,299.0L172.7,301.3M167.9,302.3L168.6,302.8M163.0,308.3L166.9,306.4M164.6,312.4L167.5,310.7M167.5,310.7L168.3,309.2M169.8,314.5L167.5,310.7M169.2,285.1L171.8,280.5M169.2,285.1L172.1,287.6M171.8,280.5L173.3,287.0M172.1,287.6L173.3,287.0M169.7,280.1L164.6,283.2M169.7,280.1L171.8,280.3M164.5,286.3L169.2,285.1M171.8,280.3L171.8,280.5M170.0,289.9L172.1,287.6M163.5,278.6L159.1,277.0M163.5,278.6L165.9,275.5M162.6,280.2L163.5,278.6M157.6,281.5L159.1,277.0M169.7,280.1L168.7,275.4M175.3,278.6L171.8,280.3M175.3,278.6L175.3,273.8M190.6,286.2L197.9,278.6M188.6,283.2L188.8,285.9M186.0,281.1L180.6,285.5M185.2,288.6L183.0,287.9M183.0,287.9L180.6,285.5M177.7,292.5L177.7,291.0M183.0,287.9L177.7,291.0M173.0,292.6L176.8,289.1M177.7,291.0L176.8,289.1M180.3,280.1L178.9,278.1M180.3,280.1L177.8,286.0M174.7,286.5L176.0,278.7M174.7,286.5L176.8,286.6M176.0,278.7L178.9,278.1M177.8,286.0L176.8,286.6M181.8,275.3L178.9,278.1M186.0,279.8L180.3,280.1M180.6,285.5L177.8,286.0M175.3,278.6L176.0,278.7M173.3,287.0L174.7,286.5M176.8,289.1L176.8,286.6M136.0,274.8L137.9,277.8M136.0,274.8L132.9,278.1M132.9,278.1L134.3,279.6M137.6,279.0L134.7,279.7M137.6,279.0L137.9,277.8M134.7,279.7L134.3,279.6M140.9,272.6L137.9,277.8M129.3,277.9L132.9,278.1M128.8,283.7L134.3,279.6M126.9,281.7L126.6,280.0M126.6,280.0L126.7,279.8M140.4,280.5L137.6,279.0M131.5,287.4L134.7,279.7M130.0,288.0L130.8,288.0M116.0,288.7L118.5,284.8M118.5,284.8L118.7,283.9M112.1,285.3L117.4,282.2M117.4,282.2L118.7,283.9M118.3,291.7L115.5,290.7M118.3,291.7L123.4,289.4M123.1,286.7L118.5,284.8M126.6,280.0L118.7,283.9M117.2,280.2L117.4,282.2M130.6,336.7L135.5,331.9M133.8,331.3L129.2,332.5M126.9,336.9L129.2,332.5M129.2,327.9L126.8,328.8M129.2,332.5L126.8,328.8M135.5,323.5L130.1,322.3M130.1,322.3L126.4,328.7M126.8,328.8L126.4,328.7M180.7,322.6L178.9,321.2M180.7,322.6L176.4,329.0M178.9,321.2L175.1,322.6M175.1,322.6L172.7,326.6M176.4,329.0L173.2,327.8M172.7,326.6L173.2,327.8M173.7,333.4L176.5,329.5M176.5,329.5L176.4,329.0M169.7,332.5L173.2,327.8M167.1,328.2L165.5,330.3M167.1,328.2L172.7,326.6M195.7,325.1L189.1,324.9M192.6,319.3L189.2,323.0M189.1,324.9L188.9,324.0M189.2,323.0L188.9,324.0M180.1,317.3L180.0,318.1M180.0,318.1L178.9,321.2M174.7,316.1L173.6,319.1M175.1,322.6L174.9,322.5M174.9,322.5L173.6,319.1M161.2,315.2L164.5,318.0M169.4,315.7L168.8,316.2M164.5,318.0L168.8,316.2M173.6,319.1L169.2,320.7M168.8,316.2L169.2,320.7M180.2,329.8L179.3,333.3M180.2,329.8L182.1,328.6M182.1,328.6L186.4,329.6M179.3,333.3L183.4,334.2M183.4,334.2L186.6,330.5M186.6,330.5L186.4,329.6M176.5,329.5L180.2,329.8M175.4,336.0L179.3,333.3M180.7,322.6L181.3,322.6M181.3,322.6L182.8,325.6M182.8,325.6L182.1,328.6M189.1,324.9L186.4,329.6M182.8,325.6L188.9,324.0M189.1,330.9L186.6,330.5M122.1,324.3L123.2,325.6M122.1,324.3L127.1,319.8M123.2,325.6L130.0,321.6M127.1,319.8L129.0,319.9M129.0,319.9L130.0,320.8M130.0,320.8L130.0,321.6M125.0,328.6L123.2,325.6M125.0,328.6L125.7,328.9M130.1,322.3L130.0,321.6M125.7,328.9L126.4,328.7M133.7,319.0L130.0,320.8M133.7,313.9L129.0,319.9M133.7,313.9L135.2,313.6M133.7,313.9L131.1,313.3M127.1,319.8L126.0,315.9M131.1,313.3L126.0,315.9M123.4,310.9L126.7,311.5M124.6,315.9L125.3,315.7M126.7,311.5L125.3,315.7M119.7,324.3L122.1,324.3M126.0,315.9L125.3,315.7M138.8,307.2L144.1,303.6M144.8,307.9L147.1,303.4M147.1,303.4L144.1,303.6M152.2,303.3L149.5,301.6M147.1,303.4L149.5,301.6M156.0,296.3L149.9,299.1M149.5,301.6L149.9,299.1M150.3,294.4L149.8,299.0M149.8,299.0L149.9,299.1M148.0,292.3L144.4,299.3M149.8,299.0L144.4,299.3M123.5,309.2L129.4,305.7M129.4,305.7L129.6,305.7M126.7,311.5L130.2,307.7M129.6,305.7L130.2,307.7M131.1,313.3L131.2,308.3M130.2,307.7L131.2,308.3M138.4,307.2L138.2,306.9M131.2,308.3L138.2,306.9M139.4,290.8L139.3,292.6M132.3,289.5L134.9,295.0M134.9,295.0L139.3,292.6M143.2,293.2L146.2,291.8M143.2,293.2L140.7,293.1M139.3,292.6L140.7,293.1M128.8,304.5L133.1,296.9M128.8,304.5L124.8,302.6M124.8,302.6L124.8,301.3M124.8,301.3L127.6,297.3M133.1,296.9L128.2,297.0M128.2,297.0L127.6,297.3M123.8,303.7L124.8,302.6M129.4,305.7L128.8,304.5M119.7,300.8L116.3,304.0M119.7,300.8L124.8,301.3M131.2,289.0L128.2,297.0M133.2,296.8L134.9,295.0M133.2,296.8L133.1,296.9M126.0,289.8L123.5,295.1M123.5,295.1L127.6,297.3M159.3,316.3L156.9,320.4M151.6,320.4L152.2,322.0M156.9,320.4L152.2,322.0M125.0,328.6L116.7,332.0M122.1,335.1L125.7,328.9M119.3,335.0L116.7,332.0M185.3,320.8L183.9,321.3M185.3,320.8L189.1,316.8M183.9,321.3L185.1,316.7M189.1,316.8L189.2,315.1M185.1,316.7L188.3,314.3M188.3,314.3L189.2,315.1M181.3,322.6L183.9,321.3M189.2,323.0L185.3,320.8M192.6,319.3L189.1,316.8M180.0,318.1L185.1,316.7M194.9,312.6L189.2,315.1M187.7,312.3L188.3,314.3M162.8,321.0L168.3,322.3M162.8,321.0L160.1,324.0M160.1,324.0L159.9,325.4M159.9,325.4L167.3,324.7M167.3,324.7L168.3,323.3M168.3,323.3L168.3,322.3M164.5,318.0L162.8,321.0M169.2,320.7L168.3,322.3M156.9,320.4L158.6,323.3M158.6,323.3L160.1,324.0M167.1,328.2L167.3,324.7M159.0,326.9L159.9,325.4M174.9,322.5L168.3,323.3M120.4,296.9L119.9,298.1M120.4,296.9L118.2,295.2M119.9,298.1L113.8,300.1M118.2,295.2L113.3,298.4M123.5,295.1L120.4,296.9M119.7,300.8L119.9,298.1M118.3,291.7L118.2,295.2M144.1,303.6L143.0,300.7M138.2,306.9L138.5,303.9M138.5,303.9L143.0,300.7M143.2,293.2L141.8,297.9M144.4,299.3L143.6,299.6M141.8,297.9L143.6,299.6M143.0,300.7L143.6,299.6M151.1,324.2L153.5,325.0M151.1,324.2L147.0,327.7M153.5,325.0L154.3,329.9M147.0,327.7L147.6,329.0M147.6,329.0L153.7,330.1M153.7,330.1L154.3,329.9M158.6,323.3L153.5,325.0M152.2,322.0L151.1,324.2M145.6,327.6L147.0,327.7M156.1,329.8L154.3,329.9M145.1,335.9L147.6,329.0M148.5,335.3L153.7,330.1M134.6,302.5L137.0,302.0M134.6,302.5L133.5,297.3M137.0,302.0L138.0,300.2M138.0,300.2L137.6,298.8M137.6,298.8L133.5,297.3M129.6,305.7L134.6,302.5M138.5,303.9L137.0,302.0M133.2,296.8L133.5,297.3M141.8,297.9L138.0,300.2M140.7,293.1L137.6,298.8" stroke="#ad9aa1" stroke-width="0.8" stroke-opacity="0.85" fill="none" filter="url(#blurC)"/><rect x="118" y="278" width="72" height="55" filter="url(#mott)" opacity="0.55"/></g>
<rect x="98" y="329.7" width="16.3" height="1.6" fill="#fff"/>
<rect x="172" y="329.7" width="15.2" height="1.6" fill="#fff"/>
<line x1="78.3" y1="435.7171428571429" x2="78.3" y2="434" stroke="#111" stroke-width="1.3"/>
<line x1="76.1" y1="434" x2="80.5" y2="434" stroke="#111" stroke-width="1.3"/>
<rect x="65.90" y="436.32" width="24.80" height="53.78" fill="#fff" stroke="#111" stroke-width="1.2"/>
<line x1="104.44999999999999" y1="437.4714285714286" x2="104.44999999999999" y2="434.5" stroke="#111" stroke-width="1.3"/>
<line x1="102.24999999999999" y1="434.5" x2="106.64999999999999" y2="434.5" stroke="#111" stroke-width="1.3"/>
<rect x="91.30" y="437.47" width="26.30" height="52.63" fill="#242424" stroke="#242424" stroke-width="0"/>
<line x1="151.60000000000002" y1="410.63085714285717" x2="151.60000000000002" y2="408.5" stroke="#111" stroke-width="1.3"/>
<line x1="149.40000000000003" y1="408.5" x2="153.8" y2="408.5" stroke="#111" stroke-width="1.3"/>
<rect x="139.00" y="411.23" width="25.20" height="78.87" fill="#fff" stroke="#111" stroke-width="1.2"/>
<line x1="178.05" y1="385.72" x2="178.05" y2="381" stroke="#111" stroke-width="1.3"/>
<line x1="175.85000000000002" y1="381" x2="180.25" y2="381" stroke="#111" stroke-width="1.3"/>
<rect x="164.80" y="385.72" width="26.50" height="104.38" fill="#242424" stroke="#242424" stroke-width="0"/>
<line x1="54.3" y1="367.3" x2="54.3" y2="493.1" stroke="#111" stroke-width="1.5"/>
<line x1="51.3" y1="490.1" x2="201.7" y2="490.1" stroke="#111" stroke-width="1.5"/>
<line x1="51.3" y1="490.1" x2="54.3" y2="490.1" stroke="#111" stroke-width="1.2"/>
<text x="45.099999999999994" y="493.16" font-size="8.5" font-weight="bold" text-anchor="end" fill="#1c1c1c" >0</text>
<line x1="51.3" y1="472.5571428571429" x2="54.3" y2="472.5571428571429" stroke="#111" stroke-width="1.2"/>
<text x="45.099999999999994" y="475.6171428571429" font-size="8.5" font-weight="bold" text-anchor="end" fill="#1c1c1c" >100</text>
<line x1="51.3" y1="455.01428571428573" x2="54.3" y2="455.01428571428573" stroke="#111" stroke-width="1.2"/>
<text x="45.099999999999994" y="458.07428571428574" font-size="8.5" font-weight="bold" text-anchor="end" fill="#1c1c1c" >200</text>
<line x1="51.3" y1="437.4714285714286" x2="54.3" y2="437.4714285714286" stroke="#111" stroke-width="1.2"/>
<text x="45.099999999999994" y="440.5314285714286" font-size="8.5" font-weight="bold" text-anchor="end" fill="#1c1c1c" >300</text>
<line x1="51.3" y1="419.92857142857144" x2="54.3" y2="419.92857142857144" stroke="#111" stroke-width="1.2"/>
<text x="45.099999999999994" y="422.98857142857145" font-size="8.5" font-weight="bold" text-anchor="end" fill="#1c1c1c" >400</text>
<line x1="51.3" y1="402.3857142857143" x2="54.3" y2="402.3857142857143" stroke="#111" stroke-width="1.2"/>
<text x="45.099999999999994" y="405.4457142857143" font-size="8.5" font-weight="bold" text-anchor="end" fill="#1c1c1c" >500</text>
<line x1="51.3" y1="384.84285714285716" x2="54.3" y2="384.84285714285716" stroke="#111" stroke-width="1.2"/>
<text x="45.099999999999994" y="387.90285714285716" font-size="8.5" font-weight="bold" text-anchor="end" fill="#1c1c1c" >600</text>
<line x1="51.3" y1="367.3" x2="54.3" y2="367.3" stroke="#111" stroke-width="1.2"/>
<text x="45.099999999999994" y="370.36" font-size="8.5" font-weight="bold" text-anchor="end" fill="#1c1c1c" >700</text>
<line x1="128" y1="490.1" x2="128" y2="493.1" stroke="#111" stroke-width="1.2"/>
<line x1="201.7" y1="490.1" x2="201.7" y2="493.1" stroke="#111" stroke-width="1.2"/>
<rect x="62.40" y="372.20" width="5.50" height="5.50" fill="#fff" stroke="#111" stroke-width="1.35"/>
<text x="71.3" y="378.3" font-size="10.5" font-weight="bold" text-anchor="start" fill="#1c1c1c" >WT</text>
<rect x="62.20" y="386.60" width="5.60" height="5.00" fill="#242424" stroke="#242424" stroke-width="0"/>
<text x="71.3" y="392.5" font-size="10.6" font-weight="bold" text-anchor="start" fill="#1c1c1c" >HKII+/-</text>
<text transform="translate(10.9 416.3) rotate(-90)" font-size="10.8" font-weight="bold" text-anchor="middle" fill="#1c1c1c">Cross sectional area of CM</text>
<text transform="translate(23.4 416.2) rotate(-90)" font-size="9.9" font-weight="bold" text-anchor="middle" fill="#1c1c1c">(µm<tspan font-size="6.5" dy="-3.4">2</tspan><tspan dy="3.4">)</tspan></text>
<text x="91.2" y="509" font-size="10.7" font-weight="bold" text-anchor="middle" fill="#1c1c1c" >Sham</text>
<text x="165" y="509" font-size="10.7" font-weight="bold" text-anchor="middle" fill="#1c1c1c" >TAC-4W</text>
<text x="148.8" y="399.3" font-size="15" font-weight="bold" text-anchor="middle" fill="#1c1c1c" >*</text>
<text x="170.7" y="373.8" font-size="15" font-weight="bold" text-anchor="middle" fill="#1c1c1c" >*</text>
<text x="179.8" y="369.9" font-size="12.3" font-weight="bold" text-anchor="middle" fill="#1c1c1c" stroke="#222" stroke-width="0.35">#</text>
<text transform="translate(228.7 197) scale(0.95 1)" font-size="16.5" font-weight="bold" fill="#1c1c1c">D</text>
<text x="311" y="222" font-size="10.7" font-weight="bold" text-anchor="middle" fill="#1c1c1c" >WT</text>
<text x="384.5" y="222" font-size="11.1" font-weight="bold" text-anchor="middle" fill="#1c1c1c" >HKII+/-</text>
<text transform="translate(261 246) rotate(-90)" font-size="10.7" font-weight="bold" text-anchor="middle" fill="#1c1c1c">Sham</text>
<text transform="translate(261 294.3) rotate(-90)" font-size="11" font-weight="bold" text-anchor="middle" fill="#1c1c1c">TAC- 4W</text>
<defs>
<filter id="blurD" x="-5%" y="-5%" width="110%" height="110%"><feGaussianBlur stdDeviation="0.75"/></filter>
<filter id="noiseD" x="0" y="0" width="100%" height="100%"><feTurbulence type="fractalNoise" baseFrequency="0.45" numOctaves="2" seed="5"/><feColorMatrix type="matrix" values="0 0 0 0 1  0 0 0 0 1  0 0 0 0 1  0 0 0 0.9 -0.3"/><feGaussianBlur stdDeviation="0.4"/></filter>
</defs>
<clipPath id="cD0"><rect x="269.0" y="225.0" width="78.2" height="43.0"/></clipPath>
<g clip-path="url(#cD0)">
<rect x="269.0" y="225.0" width="78.2" height="43.0" fill="#2f2f2f"/>
<g filter="url(#blurD)">
<polygon points="269.0,225.0 269.0,236.1 270.1,235.5 271.1,234.7 272.2,234.3 273.3,234.5 274.4,235.1 275.4,235.9 276.5,236.3 277.6,236.1 278.7,235.5 279.7,234.7 280.8,234.3 281.9,234.5 283.0,235.1 284.0,235.9 285.1,236.3 286.2,236.1 287.3,235.5 288.3,234.7 289.4,234.3 290.5,234.5 291.6,235.1 292.6,235.9 293.7,236.3 294.8,236.1 295.9,235.5 296.9,234.7 298.0,234.3 299.1,234.5 300.2,235.1 301.2,235.9 302.3,236.3 303.4,236.1 304.5,235.5 305.5,234.7 306.6,234.3 307.7,234.5 308.8,235.1 309.8,235.9 310.9,236.3 312.0,236.1 313.1,235.5 314.1,234.7 315.2,234.3 316.3,234.5 317.4,235.1 318.4,235.9 319.5,236.3 320.6,236.1 321.7,235.5 322.7,234.7 323.8,234.3 324.9,234.5 326.0,235.1 327.0,235.9 328.1,236.3 329.2,236.1 330.3,235.5 331.3,234.7 332.4,234.3 333.5,234.5 334.6,235.1 335.6,235.9 336.7,236.3 337.8,236.1 338.9,235.5 339.0,225.0" fill="#505050" opacity="1"/>
<polyline points="269.0,236.1 270.1,235.5 271.1,234.7 272.2,234.3 273.3,234.5 274.4,235.1 275.4,235.9 276.5,236.3 277.6,236.1 278.7,235.5 279.7,234.7 280.8,234.3 281.9,234.5 283.0,235.1 284.0,235.9 285.1,236.3 286.2,236.1 287.3,235.5 288.3,234.7 289.4,234.3 290.5,234.5 291.6,235.1 292.6,235.9 293.7,236.3 294.8,236.1 295.9,235.5 296.9,234.7 298.0,234.3 299.1,234.5 300.2,235.1 301.2,235.9 302.3,236.3 303.4,236.1 304.5,235.5 305.5,234.7 306.6,234.3 307.7,234.5 308.8,235.1 309.8,235.9 310.9,236.3 312.0,236.1 313.1,235.5 314.1,234.7 315.2,234.3 316.3,234.5 317.4,235.1 318.4,235.9 319.5,236.3 320.6,236.1 321.7,235.5 322.7,234.7 323.8,234.3 324.9,234.5 326.0,235.1 327.0,235.9 328.1,236.3 329.2,236.1 330.3,235.5 331.3,234.7 332.4,234.3 333.5,234.5 334.6,235.1 335.6,235.9 336.7,236.3 337.8,236.1 338.9,235.5" fill="none" stroke="#b5b5b5" stroke-width="0.9" opacity="1"/>
<rect x="269.0" y="227.2" width="70.0" height="1.3" fill="#d6d6d6"/>
<polygon points="269.0,268.0 269.0,257.6 270.1,256.5 271.1,257.1 272.2,258.2 273.3,259.2 274.4,260.3 275.4,259.7 276.5,258.6 277.6,257.6 278.7,256.5 279.7,257.1 280.8,258.2 281.9,259.2 283.0,260.3 284.0,259.7 285.1,258.6 286.2,257.6 287.3,256.5 288.3,257.1 289.4,258.2 290.5,259.2 291.6,260.3 292.6,259.7 293.7,258.6 294.8,257.6 295.9,256.5 296.9,257.1 298.0,258.2 299.1,259.2 300.2,260.3 301.2,259.7 302.3,258.6 303.4,257.6 304.5,256.5 305.5,257.1 306.6,258.2 307.7,259.2 308.8,260.3 309.8,259.7 310.9,258.6 312.0,257.6 313.1,256.5 314.1,257.1 315.2,258.2 316.3,259.2 317.4,260.3 318.4,259.7 319.5,258.6 320.6,257.6 321.7,256.5 322.7,257.1 323.8,258.2 324.9,259.2 326.0,260.3 327.0,259.7 328.1,258.6 329.2,257.6 330.3,256.5 331.3,257.1 332.4,258.2 333.5,259.2 334.6,260.3 335.6,259.7 336.7,258.6 337.8,257.6 338.9,256.5 339.0,268.0" fill="#4a4a4a" opacity="1"/>
<polyline points="269.0,257.6 270.1,256.5 271.1,257.1 272.2,258.2 273.3,259.2 274.4,260.3 275.4,259.7 276.5,258.6 277.6,257.6 278.7,256.5 279.7,257.1 280.8,258.2 281.9,259.2 283.0,260.3 284.0,259.7 285.1,258.6 286.2,257.6 287.3,256.5 288.3,257.1 289.4,258.2 290.5,259.2 291.6,260.3 292.6,259.7 293.7,258.6 294.8,257.6 295.9,256.5 296.9,257.1 298.0,258.2 299.1,259.2 300.2,260.3 301.2,259.7 302.3,258.6 303.4,257.6 304.5,256.5 305.5,257.1 306.6,258.2 307.7,259.2 308.8,260.3 309.8,259.7 310.9,258.6 312.0,257.6 313.1,256.5 314.1,257.1 315.2,258.2 316.3,259.2 317.4,260.3 318.4,259.7 319.5,258.6 320.6,257.6 321.7,256.5 322.7,257.1 323.8,258.2 324.9,259.2 326.0,260.3 327.0,259.7 328.1,258.6 329.2,257.6 330.3,256.5 331.3,257.1 332.4,258.2 333.5,259.2 334.6,260.3 335.6,259.7 336.7,258.6 337.8,257.6 338.9,256.5" fill="none" stroke="#8a8a8a" stroke-width="0.8" opacity="1"/>
<polygon points="269.0,268.0 269.0,263.9 270.1,263.3 271.1,263.7 272.2,264.3 273.3,264.9 274.4,265.5 275.4,265.1 276.5,264.5 277.6,263.9 278.7,263.3 279.7,263.7 280.8,264.3 281.9,264.9 283.0,265.5 284.0,265.1 285.1,264.5 286.2,263.9 287.3,263.3 288.3,263.7 289.4,264.3 290.5,264.9 291.6,265.5 292.6,265.1 293.7,264.5 294.8,263.9 295.9,263.3 296.9,263.7 298.0,264.3 299.1,264.9 300.2,265.5 301.2,265.1 302.3,264.5 303.4,263.9 304.5,263.3 305.5,263.7 306.6,264.3 307.7,264.9 308.8,265.5 309.8,265.1 310.9,264.5 312.0,263.9 313.1,263.3 314.1,263.7 315.2,264.3 316.3,264.9 317.4,265.5 318.4,265.1 319.5,264.5 320.6,263.9 321.7,263.3 322.7,263.7 323.8,264.3 324.9,264.9 326.0,265.5 327.0,265.1 328.1,264.5 329.2,263.9 330.3,263.3 331.3,263.7 332.4,264.3 333.5,264.9 334.6,265.5 335.6,265.1 336.7,264.5 337.8,263.9 338.9,263.3 339.0,268.0" fill="#f0f0f0" opacity="1"/>
<rect x="269.0" y="266.6" width="70.0" height="2" fill="#555"/>
</g>
<rect x="269.0" y="225.0" width="70.0" height="43.0" fill="#fff" filter="url(#noiseD)" opacity="0.22"/>
<rect x="339.0" y="225.0" width="8.2" height="43.0" fill="#1b1b1b"/>
<rect x="342.6" y="227.5" width="1.2" height="0.9" fill="#8a8a8a"/>
<rect x="342.6" y="233.7" width="1.2" height="0.9" fill="#8a8a8a"/>
<rect x="342.6" y="239.8" width="1.2" height="0.9" fill="#8a8a8a"/>
<rect x="342.6" y="246.0" width="1.2" height="0.9" fill="#8a8a8a"/>
<rect x="342.6" y="252.2" width="1.2" height="0.9" fill="#8a8a8a"/>
<rect x="342.6" y="258.3" width="1.2" height="0.9" fill="#8a8a8a"/>
<rect x="342.6" y="264.5" width="1.2" height="0.9" fill="#8a8a8a"/>
<rect x="269.5" y="225.5" width="77.2" height="42.0" fill="none" stroke="#141414" stroke-width="1.2"/>
</g>
<clipPath id="cD1"><rect x="351.3" y="225.0" width="78.5" height="43.0"/></clipPath>
<g clip-path="url(#cD1)">
<rect x="351.3" y="225.0" width="78.5" height="43.0" fill="#2f2f2f"/>
<g filter="url(#blurD)">
<polygon points="351.3,225.0 351.3,237.6 352.5,236.9 353.6,236.3 354.8,236.4 356.0,237.0 357.1,237.7 358.3,238.3 359.4,238.2 360.6,237.6 361.8,236.9 362.9,236.3 364.1,236.4 365.3,237.0 366.4,237.7 367.6,238.3 368.7,238.2 369.9,237.6 371.1,236.9 372.2,236.3 373.4,236.4 374.6,237.0 375.7,237.7 376.9,238.3 378.0,238.2 379.2,237.6 380.4,236.9 381.5,236.3 382.7,236.4 383.9,237.0 385.0,237.7 386.2,238.3 387.3,238.2 388.5,237.6 389.7,236.9 390.8,236.3 392.0,236.4 393.2,237.0 394.3,237.7 395.5,238.3 396.6,238.2 397.8,237.6 399.0,236.9 400.1,236.3 401.3,236.4 402.5,237.0 403.6,237.7 404.8,238.3 405.9,238.2 407.1,237.6 408.3,236.9 409.4,236.3 410.6,236.4 411.8,237.0 412.9,237.7 414.1,238.3 415.2,238.2 416.4,237.6 417.6,236.9 418.7,236.3 419.9,236.4 421.1,237.0 421.6,225.0" fill="#5e5e5e" opacity="1"/>
<rect x="351.3" y="226.6" width="70.3" height="3.2" fill="#d9d9d9"/>
<rect x="351.3" y="229.8" width="70.3" height="2.5" fill="#8a8a8a"/>
<polygon points="351.3,268.0 351.3,258.4 352.5,260.8 353.6,263.2 354.8,265.5 356.0,264.1 357.1,261.7 358.3,259.3 359.4,257.0 360.6,258.4 361.8,260.8 362.9,263.2 364.1,265.5 365.3,264.1 366.4,261.7 367.6,259.3 368.7,257.0 369.9,258.4 371.1,260.8 372.2,263.2 373.4,265.5 374.6,264.1 375.7,261.7 376.9,259.3 378.0,257.0 379.2,258.4 380.4,260.8 381.5,263.2 382.7,265.5 383.9,264.1 385.0,261.7 386.2,259.3 387.3,257.0 388.5,258.4 389.7,260.8 390.8,263.2 392.0,265.5 393.2,264.1 394.3,261.7 395.5,259.3 396.6,257.0 397.8,258.4 399.0,260.8 400.1,263.2 401.3,265.5 402.5,264.1 403.6,261.7 404.8,259.3 405.9,257.0 407.1,258.4 408.3,260.8 409.4,263.2 410.6,265.5 411.8,264.1 412.9,261.7 414.1,259.3 415.2,257.0 416.4,258.4 417.6,260.8 418.7,263.2 419.9,265.5 421.1,264.1 421.6,268.0" fill="#4c4c4c" opacity="1"/>
<polyline points="351.3,258.4 352.5,260.8 353.6,263.2 354.8,265.5 356.0,264.1 357.1,261.7 358.3,259.3 359.4,257.0 360.6,258.4 361.8,260.8 362.9,263.2 364.1,265.5 365.3,264.1 366.4,261.7 367.6,259.3 368.7,257.0 369.9,258.4 371.1,260.8 372.2,263.2 373.4,265.5 374.6,264.1 375.7,261.7 376.9,259.3 378.0,257.0 379.2,258.4 380.4,260.8 381.5,263.2 382.7,265.5 383.9,264.1 385.0,261.7 386.2,259.3 387.3,257.0 388.5,258.4 389.7,260.8 390.8,263.2 392.0,265.5 393.2,264.1 394.3,261.7 395.5,259.3 396.6,257.0 397.8,258.4 399.0,260.8 400.1,263.2 401.3,265.5 402.5,264.1 403.6,261.7 404.8,259.3 405.9,257.0 407.1,258.4 408.3,260.8 409.4,263.2 410.6,265.5 411.8,264.1 412.9,261.7 414.1,259.3 415.2,257.0 416.4,258.4 417.6,260.8 418.7,263.2 419.9,265.5 421.1,264.1" fill="none" stroke="#8c8c8c" stroke-width="0.7" opacity="1"/>
<polygon points="351.3,268.0 351.3,264.4 352.5,265.2 353.6,266.0 354.8,266.8 356.0,266.4 357.1,265.6 358.3,264.8 359.4,264.0 360.6,264.4 361.8,265.2 362.9,266.0 364.1,266.8 365.3,266.4 366.4,265.6 367.6,264.8 368.7,264.0 369.9,264.4 371.1,265.2 372.2,266.0 373.4,266.8 374.6,266.4 375.7,265.6 376.9,264.8 378.0,264.0 379.2,264.4 380.4,265.2 381.5,266.0 382.7,266.8 383.9,266.4 385.0,265.6 386.2,264.8 387.3,264.0 388.5,264.4 389.7,265.2 390.8,266.0 392.0,266.8 393.2,266.4 394.3,265.6 395.5,264.8 396.6,264.0 397.8,264.4 399.0,265.2 400.1,266.0 401.3,266.8 402.5,266.4 403.6,265.6 404.8,264.8 405.9,264.0 407.1,264.4 408.3,265.2 409.4,266.0 410.6,266.8 411.8,266.4 412.9,265.6 414.1,264.8 415.2,264.0 416.4,264.4 417.6,265.2 418.7,266.0 419.9,266.8 421.1,266.4 421.6,268.0" fill="#e8e8e8" opacity="1"/>
</g>
<rect x="351.3" y="225.0" width="70.3" height="43.0" fill="#fff" filter="url(#noiseD)" opacity="0.22"/>
<rect x="421.6" y="225.0" width="8.2" height="43.0" fill="#1b1b1b"/>
<rect x="425.2" y="227.5" width="1.2" height="0.9" fill="#8a8a8a"/>
<rect x="425.2" y="233.7" width="1.2" height="0.9" fill="#8a8a8a"/>
<rect x="425.2" y="239.8" width="1.2" height="0.9" fill="#8a8a8a"/>
<rect x="425.2" y="246.0" width="1.2" height="0.9" fill="#8a8a8a"/>
<rect x="425.2" y="252.2" width="1.2" height="0.9" fill="#8a8a8a"/>
<rect x="425.2" y="258.3" width="1.2" height="0.9" fill="#8a8a8a"/>
<rect x="425.2" y="264.5" width="1.2" height="0.9" fill="#8a8a8a"/>
<rect x="351.8" y="225.5" width="77.5" height="42.0" fill="none" stroke="#141414" stroke-width="1.2"/>
</g>
<clipPath id="cD2"><rect x="269.0" y="271.3" width="78.2" height="46.3"/></clipPath>
<g clip-path="url(#cD2)">
<rect x="269.0" y="271.3" width="78.2" height="46.3" fill="#2f2f2f"/>
<g filter="url(#blurD)">
<polygon points="269.0,271.3 269.0,283.3 270.1,282.9 271.2,281.8 272.3,280.7 273.5,280.3 274.6,280.7 275.7,281.8 276.8,282.9 277.9,283.3 279.0,282.9 280.1,281.8 281.2,280.7 282.4,280.3 283.5,280.7 284.6,281.8 285.7,282.9 286.8,283.3 287.9,282.9 289.0,281.8 290.1,280.7 291.3,280.3 292.4,280.7 293.5,281.8 294.6,282.9 295.7,283.3 296.8,282.9 297.9,281.8 299.0,280.7 300.2,280.3 301.3,280.7 302.4,281.8 303.5,282.9 304.6,283.3 305.7,282.9 306.8,281.8 307.9,280.7 309.1,280.3 310.2,280.7 311.3,281.8 312.4,282.9 313.5,283.3 314.6,282.9 315.7,281.8 316.8,280.7 318.0,280.3 319.1,280.7 320.2,281.8 321.3,282.9 322.4,283.3 323.5,282.9 324.6,281.8 325.7,280.7 326.9,280.3 328.0,280.7 329.1,281.8 330.2,282.9 331.3,283.3 332.4,282.9 333.5,281.8 334.6,280.7 335.8,280.3 336.9,280.7 338.0,281.8 339.0,271.3" fill="#636363" opacity="1"/>
<polyline points="269.0,283.3 270.1,282.9 271.2,281.8 272.3,280.7 273.5,280.3 274.6,280.7 275.7,281.8 276.8,282.9 277.9,283.3 279.0,282.9 280.1,281.8 281.2,280.7 282.4,280.3 283.5,280.7 284.6,281.8 285.7,282.9 286.8,283.3 287.9,282.9 289.0,281.8 290.1,280.7 291.3,280.3 292.4,280.7 293.5,281.8 294.6,282.9 295.7,283.3 296.8,282.9 297.9,281.8 299.0,280.7 300.2,280.3 301.3,280.7 302.4,281.8 303.5,282.9 304.6,283.3 305.7,282.9 306.8,281.8 307.9,280.7 309.1,280.3 310.2,280.7 311.3,281.8 312.4,282.9 313.5,283.3 314.6,282.9 315.7,281.8 316.8,280.7 318.0,280.3 319.1,280.7 320.2,281.8 321.3,282.9 322.4,283.3 323.5,282.9 324.6,281.8 325.7,280.7 326.9,280.3 328.0,280.7 329.1,281.8 330.2,282.9 331.3,283.3 332.4,282.9 333.5,281.8 334.6,280.7 335.8,280.3 336.9,280.7 338.0,281.8" fill="none" stroke="#a8a8a8" stroke-width="0.9" opacity="1"/>
<rect x="269.0" y="272.6" width="70.0" height="1.1" fill="#bdbdbd"/>
<polygon points="269.0,317.6 269.0,297.5 270.1,298.5 271.2,299.5 272.3,300.5 273.5,301.5 274.6,300.5 275.7,299.5 276.8,298.5 277.9,297.5 279.0,298.5 280.1,299.5 281.2,300.5 282.4,301.5 283.5,300.5 284.6,299.5 285.7,298.5 286.8,297.5 287.9,298.5 289.0,299.5 290.1,300.5 291.3,301.5 292.4,300.5 293.5,299.5 294.6,298.5 295.7,297.5 296.8,298.5 297.9,299.5 299.0,300.5 300.2,301.5 301.3,300.5 302.4,299.5 303.5,298.5 304.6,297.5 305.7,298.5 306.8,299.5 307.9,300.5 309.1,301.5 310.2,300.5 311.3,299.5 312.4,298.5 313.5,297.5 314.6,298.5 315.7,299.5 316.8,300.5 318.0,301.5 319.1,300.5 320.2,299.5 321.3,298.5 322.4,297.5 323.5,298.5 324.6,299.5 325.7,300.5 326.9,301.5 328.0,300.5 329.1,299.5 330.2,298.5 331.3,297.5 332.4,298.5 333.5,299.5 334.6,300.5 335.8,301.5 336.9,300.5 338.0,299.5 339.0,317.6" fill="#454545" opacity="1"/>
<polyline points="269.0,297.5 270.1,298.5 271.2,299.5 272.3,300.5 273.5,301.5 274.6,300.5 275.7,299.5 276.8,298.5 277.9,297.5 279.0,298.5 280.1,299.5 281.2,300.5 282.4,301.5 283.5,300.5 284.6,299.5 285.7,298.5 286.8,297.5 287.9,298.5 289.0,299.5 290.1,300.5 291.3,301.5 292.4,300.5 293.5,299.5 294.6,298.5 295.7,297.5 296.8,298.5 297.9,299.5 299.0,300.5 300.2,301.5 301.3,300.5 302.4,299.5 303.5,298.5 304.6,297.5 305.7,298.5 306.8,299.5 307.9,300.5 309.1,301.5 310.2,300.5 311.3,299.5 312.4,298.5 313.5,297.5 314.6,298.5 315.7,299.5 316.8,300.5 318.0,301.5 319.1,300.5 320.2,299.5 321.3,298.5 322.4,297.5 323.5,298.5 324.6,299.5 325.7,300.5 326.9,301.5 328.0,300.5 329.1,299.5 330.2,298.5 331.3,297.5 332.4,298.5 333.5,299.5 334.6,300.5 335.8,301.5 336.9,300.5 338.0,299.5" fill="none" stroke="#6f6f6f" stroke-width="0.8" opacity="1"/>
<polygon points="269.0,317.6 269.0,306.4 270.1,306.8 271.2,307.7 272.3,308.6 273.5,309.0 274.6,308.6 275.7,307.7 276.8,306.8 277.9,306.4 279.0,306.8 280.1,307.7 281.2,308.6 282.4,309.0 283.5,308.6 284.6,307.7 285.7,306.8 286.8,306.4 287.9,306.8 289.0,307.7 290.1,308.6 291.3,309.0 292.4,308.6 293.5,307.7 294.6,306.8 295.7,306.4 296.8,306.8 297.9,307.7 299.0,308.6 300.2,309.0 301.3,308.6 302.4,307.7 303.5,306.8 304.6,306.4 305.7,306.8 306.8,307.7 307.9,308.6 309.1,309.0 310.2,308.6 311.3,307.7 312.4,306.8 313.5,306.4 314.6,306.8 315.7,307.7 316.8,308.6 318.0,309.0 319.1,308.6 320.2,307.7 321.3,306.8 322.4,306.4 323.5,306.8 324.6,307.7 325.7,308.6 326.9,309.0 328.0,308.6 329.1,307.7 330.2,306.8 331.3,306.4 332.4,306.8 333.5,307.7 334.6,308.6 335.8,309.0 336.9,308.6 338.0,307.7 339.0,317.6" fill="#6a6a6a" opacity="1"/>
<polyline points="269.0,306.4 270.1,306.8 271.2,307.7 272.3,308.6 273.5,309.0 274.6,308.6 275.7,307.7 276.8,306.8 277.9,306.4 279.0,306.8 280.1,307.7 281.2,308.6 282.4,309.0 283.5,308.6 284.6,307.7 285.7,306.8 286.8,306.4 287.9,306.8 289.0,307.7 290.1,308.6 291.3,309.0 292.4,308.6 293.5,307.7 294.6,306.8 295.7,306.4 296.8,306.8 297.9,307.7 299.0,308.6 300.2,309.0 301.3,308.6 302.4,307.7 303.5,306.8 304.6,306.4 305.7,306.8 306.8,307.7 307.9,308.6 309.1,309.0 310.2,308.6 311.3,307.7 312.4,306.8 313.5,306.4 314.6,306.8 315.7,307.7 316.8,308.6 318.0,309.0 319.1,308.6 320.2,307.7 321.3,306.8 322.4,306.4 323.5,306.8 324.6,307.7 325.7,308.6 326.9,309.0 328.0,308.6 329.1,307.7 330.2,306.8 331.3,306.4 332.4,306.8 333.5,307.7 334.6,308.6 335.8,309.0 336.9,308.6 338.0,307.7" fill="none" stroke="#e6e6e6" stroke-width="1.6" opacity="1"/>
<rect x="269.0" y="314.5" width="70.0" height="4" fill="#3a3a3a"/>
<rect x="320.4" y="272.6" width="1.3" height="9.3" fill="#d83c3c"/>
</g>
<rect x="269.0" y="271.3" width="70.0" height="46.3" fill="#fff" filter="url(#noiseD)" opacity="0.22"/>
<rect x="339.0" y="271.3" width="8.2" height="46.3" fill="#1b1b1b"/>
<rect x="342.6" y="273.8" width="1.2" height="0.9" fill="#8a8a8a"/>
<rect x="342.6" y="280.5" width="1.2" height="0.9" fill="#8a8a8a"/>
<rect x="342.6" y="287.2" width="1.2" height="0.9" fill="#8a8a8a"/>
<rect x="342.6" y="294.0" width="1.2" height="0.9" fill="#8a8a8a"/>
<rect x="342.6" y="300.7" width="1.2" height="0.9" fill="#8a8a8a"/>
<rect x="342.6" y="307.4" width="1.2" height="0.9" fill="#8a8a8a"/>
<rect x="342.6" y="314.1" width="1.2" height="0.9" fill="#8a8a8a"/>
<rect x="269.5" y="271.8" width="77.2" height="45.3" fill="none" stroke="#141414" stroke-width="1.2"/>
</g>
<clipPath id="cD3"><rect x="351.3" y="271.3" width="78.5" height="46.3"/></clipPath>
<g clip-path="url(#cD3)">
<rect x="351.3" y="271.3" width="78.5" height="46.3" fill="#2f2f2f"/>
<g filter="url(#blurD)">
<rect x="351.3" y="271.3" width="78.5" height="46.3" fill="#393939"/>
<polygon points="351.3,271.3 351.3,283.7 352.5,282.9 353.7,282.8 354.8,283.6 356.0,284.3 357.2,285.1 358.4,285.2 359.5,284.4 360.7,283.7 361.9,282.9 363.1,282.8 364.2,283.6 365.4,284.3 366.6,285.1 367.8,285.2 368.9,284.4 370.1,283.7 371.3,282.9 372.5,282.8 373.6,283.6 374.8,284.3 376.0,285.1 377.2,285.2 378.3,284.4 379.5,283.7 380.7,282.9 381.9,282.8 383.0,283.6 384.2,284.3 385.4,285.1 386.6,285.2 387.7,284.4 388.9,283.7 390.1,282.9 391.3,282.8 392.4,283.6 393.6,284.3 394.8,285.1 396.0,285.2 397.1,284.4 398.3,283.7 399.5,282.9 400.7,282.8 401.8,283.6 403.0,284.3 404.2,285.1 405.4,285.2 406.5,284.4 407.7,283.7 408.9,282.9 410.1,282.8 411.2,283.6 412.4,284.3 413.6,285.1 414.8,285.2 415.9,284.4 417.1,283.7 418.3,282.9 419.5,282.8 420.6,283.6 421.6,271.3" fill="#757575" opacity="1"/>
<rect x="351.3" y="272.4" width="70.3" height="1.6" fill="#a9a9a9"/>
<polygon points="351.3,317.6 351.3,306.5 352.5,307.1 353.7,307.3 354.8,306.7 356.0,306.1 357.2,305.5 358.4,305.3 359.5,305.9 360.7,306.5 361.9,307.1 363.1,307.3 364.2,306.7 365.4,306.1 366.6,305.5 367.8,305.3 368.9,305.9 370.1,306.5 371.3,307.1 372.5,307.3 373.6,306.7 374.8,306.1 376.0,305.5 377.2,305.3 378.3,305.9 379.5,306.5 380.7,307.1 381.9,307.3 383.0,306.7 384.2,306.1 385.4,305.5 386.6,305.3 387.7,305.9 388.9,306.5 390.1,307.1 391.3,307.3 392.4,306.7 393.6,306.1 394.8,305.5 396.0,305.3 397.1,305.9 398.3,306.5 399.5,307.1 400.7,307.3 401.8,306.7 403.0,306.1 404.2,305.5 405.4,305.3 406.5,305.9 407.7,306.5 408.9,307.1 410.1,307.3 411.2,306.7 412.4,306.1 413.6,305.5 414.8,305.3 415.9,305.9 417.1,306.5 418.3,307.1 419.5,307.3 420.6,306.7 421.6,317.6" fill="#6c6c6c" opacity="1"/>
<polygon points="351.3,317.6 351.3,312.6 352.5,313.2 353.7,313.4 354.8,312.8 356.0,312.2 357.2,311.6 358.4,311.4 359.5,312.0 360.7,312.6 361.9,313.2 363.1,313.4 364.2,312.8 365.4,312.2 366.6,311.6 367.8,311.4 368.9,312.0 370.1,312.6 371.3,313.2 372.5,313.4 373.6,312.8 374.8,312.2 376.0,311.6 377.2,311.4 378.3,312.0 379.5,312.6 380.7,313.2 381.9,313.4 383.0,312.8 384.2,312.2 385.4,311.6 386.6,311.4 387.7,312.0 388.9,312.6 390.1,313.2 391.3,313.4 392.4,312.8 393.6,312.2 394.8,311.6 396.0,311.4 397.1,312.0 398.3,312.6 399.5,313.2 400.7,313.4 401.8,312.8 403.0,312.2 404.2,311.6 405.4,311.4 406.5,312.0 407.7,312.6 408.9,313.2 410.1,313.4 411.2,312.8 412.4,312.2 413.6,311.6 414.8,311.4 415.9,312.0 417.1,312.6 418.3,313.2 419.5,313.4 420.6,312.8 421.6,317.6" fill="#4a4a4a" opacity="1"/>
<rect x="351.3" y="315.4" width="70.3" height="1.3" fill="#d0d0d0"/>
<rect x="395.9" y="272.3" width="1.2" height="12.6" fill="#e03a3a"/>
</g>
<rect x="351.3" y="271.3" width="70.3" height="46.3" fill="#fff" filter="url(#noiseD)" opacity="0.22"/>
<rect x="421.6" y="271.3" width="8.2" height="46.3" fill="#1b1b1b"/>
<rect x="425.2" y="273.8" width="1.2" height="0.9" fill="#8a8a8a"/>
<rect x="425.2" y="280.5" width="1.2" height="0.9" fill="#8a8a8a"/>
<rect x="425.2" y="287.2" width="1.2" height="0.9" fill="#8a8a8a"/>
<rect x="425.2" y="294.0" width="1.2" height="0.9" fill="#8a8a8a"/>
<rect x="425.2" y="300.7" width="1.2" height="0.9" fill="#8a8a8a"/>
<rect x="425.2" y="307.4" width="1.2" height="0.9" fill="#8a8a8a"/>
<rect x="425.2" y="314.1" width="1.2" height="0.9" fill="#8a8a8a"/>
<rect x="351.8" y="271.8" width="77.5" height="45.3" fill="none" stroke="#141414" stroke-width="1.2"/>
</g>
<line x1="311.04999999999995" y1="426.2778571428571" x2="311.04999999999995" y2="423.6" stroke="#111" stroke-width="1.3"/>
<line x1="308.84999999999997" y1="423.6" x2="313.24999999999994" y2="423.6" stroke="#111" stroke-width="1.3"/>
<rect x="297.50" y="426.88" width="27.10" height="60.32" fill="#fff" stroke="#111" stroke-width="1.2"/>
<line x1="338.6" y1="429.00571428571425" x2="338.6" y2="425" stroke="#111" stroke-width="1.3"/>
<line x1="336.40000000000003" y1="425" x2="340.8" y2="425" stroke="#111" stroke-width="1.3"/>
<rect x="325.20" y="429.01" width="26.80" height="58.19" fill="#242424" stroke="#242424" stroke-width="0"/>
<line x1="386.65" y1="396.27142857142854" x2="386.65" y2="390" stroke="#111" stroke-width="1.3"/>
<line x1="384.45" y1="390" x2="388.84999999999997" y2="390" stroke="#111" stroke-width="1.3"/>
<rect x="373.40" y="396.87" width="26.50" height="90.33" fill="#fff" stroke="#111" stroke-width="1.2"/>
<line x1="414.25" y1="377.1764285714286" x2="414.25" y2="372" stroke="#111" stroke-width="1.3"/>
<line x1="412.05" y1="372" x2="416.45" y2="372" stroke="#111" stroke-width="1.3"/>
<rect x="400.50" y="377.18" width="27.50" height="110.02" fill="#242424" stroke="#242424" stroke-width="0"/>
<line x1="286.1" y1="359.9" x2="286.1" y2="490.2" stroke="#111" stroke-width="1.5"/>
<line x1="283.1" y1="487.2" x2="438.7" y2="487.2" stroke="#111" stroke-width="1.5"/>
<line x1="283.1" y1="487.2" x2="286.1" y2="487.2" stroke="#111" stroke-width="1.2"/>
<text x="277.3" y="490.26" font-size="8.5" font-weight="bold" text-anchor="end" fill="#1c1c1c" >0</text>
<line x1="283.1" y1="469.0142857142857" x2="286.1" y2="469.0142857142857" stroke="#111" stroke-width="1.2"/>
<text x="277.3" y="472.0742857142857" font-size="8.5" font-weight="bold" text-anchor="end" fill="#1c1c1c" >0.2</text>
<line x1="283.1" y1="450.8285714285714" x2="286.1" y2="450.8285714285714" stroke="#111" stroke-width="1.2"/>
<text x="277.3" y="453.8885714285714" font-size="8.5" font-weight="bold" text-anchor="end" fill="#1c1c1c" >0.4</text>
<line x1="283.1" y1="432.6428571428571" x2="286.1" y2="432.6428571428571" stroke="#111" stroke-width="1.2"/>
<text x="277.3" y="435.7028571428571" font-size="8.5" font-weight="bold" text-anchor="end" fill="#1c1c1c" >0.6</text>
<line x1="283.1" y1="414.4571428571428" x2="286.1" y2="414.4571428571428" stroke="#111" stroke-width="1.2"/>
<text x="277.3" y="417.5171428571428" font-size="8.5" font-weight="bold" text-anchor="end" fill="#1c1c1c" >0.8</text>
<line x1="283.1" y1="396.27142857142854" x2="286.1" y2="396.27142857142854" stroke="#111" stroke-width="1.2"/>
<text x="277.3" y="399.33142857142855" font-size="8.5" font-weight="bold" text-anchor="end" fill="#1c1c1c" >1</text>
<line x1="283.1" y1="378.0857142857143" x2="286.1" y2="378.0857142857143" stroke="#111" stroke-width="1.2"/>
<text x="277.3" y="381.1457142857143" font-size="8.5" font-weight="bold" text-anchor="end" fill="#1c1c1c" >1.2</text>
<line x1="283.1" y1="359.9" x2="286.1" y2="359.9" stroke="#111" stroke-width="1.2"/>
<text x="277.3" y="362.96" font-size="8.5" font-weight="bold" text-anchor="end" fill="#1c1c1c" >1.4</text>
<line x1="362.9" y1="487.2" x2="362.9" y2="490.2" stroke="#111" stroke-width="1.2"/>
<line x1="438.7" y1="487.2" x2="438.7" y2="490.2" stroke="#111" stroke-width="1.2"/>
<rect x="295.60" y="367.90" width="5.50" height="5.50" fill="#fff" stroke="#111" stroke-width="1.35"/>
<text x="302.8" y="374" font-size="10.2" font-weight="bold" text-anchor="start" fill="#1c1c1c" >WT</text>
<rect x="295.40" y="383.60" width="5.60" height="5.00" fill="#242424" stroke="#242424" stroke-width="0"/>
<text x="302.8" y="389.5" font-size="10.4" font-weight="bold" text-anchor="start" fill="#1c1c1c" textLength="31.5" lengthAdjust="spacingAndGlyphs">HKII+/-</text>
<text transform="translate(259.6 422.2) rotate(-90)" font-size="11.5" font-weight="bold" text-anchor="middle" fill="#1c1c1c">LVED wall thickness (mm)</text>
<text x="324.5" y="507.3" font-size="10.7" font-weight="bold" text-anchor="middle" fill="#1c1c1c" >Sham</text>
<text x="401" y="507" font-size="10.7" font-weight="bold" text-anchor="middle" fill="#1c1c1c" >TAC-4w</text>
<text x="386" y="379.1" font-size="15" font-weight="bold" text-anchor="middle" fill="#1c1c1c" >*</text>
<text x="411.6" y="360.3" font-size="15" font-weight="bold" text-anchor="middle" fill="#1c1c1c" >*</text>
<text x="420.2" y="357.0" font-size="12.3" font-weight="bold" text-anchor="middle" fill="#1c1c1c" stroke="#222" stroke-width="0.35">#</text>
<text transform="translate(460.9 197) scale(0.95 1)" font-size="16.5" font-weight="bold" fill="#1c1c1c">E</text>
<line x1="526.7" y1="304.21099999999996" x2="526.7" y2="302" stroke="#111" stroke-width="1.3"/>
<line x1="524.5" y1="302" x2="528.9000000000001" y2="302" stroke="#111" stroke-width="1.3"/>
<rect x="517.20" y="304.81" width="19.00" height="6.59" fill="#fff" stroke="#111" stroke-width="1.2"/>
<line x1="546.9" y1="304.21099999999996" x2="546.9" y2="300.5" stroke="#111" stroke-width="1.3"/>
<line x1="544.6999999999999" y1="300.5" x2="549.1" y2="300.5" stroke="#111" stroke-width="1.3"/>
<rect x="536.80" y="304.21" width="20.20" height="7.19" fill="#242424" stroke="#242424" stroke-width="0"/>
<line x1="579.25" y1="295.4815" x2="579.25" y2="293" stroke="#111" stroke-width="1.3"/>
<line x1="577.05" y1="293" x2="581.45" y2="293" stroke="#111" stroke-width="1.3"/>
<rect x="570.10" y="296.08" width="18.30" height="15.32" fill="#fff" stroke="#111" stroke-width="1.2"/>
<line x1="599.1" y1="274.94149999999996" x2="599.1" y2="251.8" stroke="#111" stroke-width="1.3"/>
<line x1="596.9" y1="251.8" x2="601.3000000000001" y2="251.8" stroke="#111" stroke-width="1.3"/>
<rect x="589.00" y="274.94" width="20.20" height="36.46" fill="#242424" stroke="#242424" stroke-width="0"/>
<line x1="631.95" y1="271.347" x2="631.95" y2="269" stroke="#111" stroke-width="1.3"/>
<line x1="629.75" y1="269" x2="634.1500000000001" y2="269" stroke="#111" stroke-width="1.3"/>
<rect x="622.60" y="271.95" width="18.70" height="39.45" fill="#fff" stroke="#111" stroke-width="1.2"/>
<line x1="651.8" y1="233.60474999999997" x2="651.8" y2="218.4" stroke="#111" stroke-width="1.3"/>
<line x1="649.5999999999999" y1="218.4" x2="654.0" y2="218.4" stroke="#111" stroke-width="1.3"/>
<rect x="641.90" y="233.60" width="19.80" height="77.80" fill="#242424" stroke="#242424" stroke-width="0"/>
<line x1="510.6" y1="208.7" x2="510.6" y2="314.4" stroke="#111" stroke-width="1.5"/>
<line x1="507.6" y1="311.4" x2="669.1" y2="311.4" stroke="#111" stroke-width="1.5"/>
<line x1="507.6" y1="311.4" x2="510.6" y2="311.4" stroke="#111" stroke-width="1.2"/>
<text x="502.40000000000003" y="314.46" font-size="8.5" font-weight="bold" text-anchor="end" fill="#1c1c1c" >0</text>
<line x1="507.6" y1="301.13" x2="510.6" y2="301.13" stroke="#111" stroke-width="1.2"/>
<text x="502.40000000000003" y="304.19" font-size="8.5" font-weight="bold" text-anchor="end" fill="#1c1c1c" >20</text>
<line x1="507.6" y1="290.85999999999996" x2="510.6" y2="290.85999999999996" stroke="#111" stroke-width="1.2"/>
<text x="502.40000000000003" y="293.91999999999996" font-size="8.5" font-weight="bold" text-anchor="end" fill="#1c1c1c" >40</text>
<line x1="507.6" y1="280.59" x2="510.6" y2="280.59" stroke="#111" stroke-width="1.2"/>
<text x="502.40000000000003" y="283.65" font-size="8.5" font-weight="bold" text-anchor="end" fill="#1c1c1c" >60</text>
<line x1="507.6" y1="270.32" x2="510.6" y2="270.32" stroke="#111" stroke-width="1.2"/>
<text x="502.40000000000003" y="273.38" font-size="8.5" font-weight="bold" text-anchor="end" fill="#1c1c1c" >80</text>
<line x1="507.6" y1="260.04999999999995" x2="510.6" y2="260.04999999999995" stroke="#111" stroke-width="1.2"/>
<text x="502.40000000000003" y="263.10999999999996" font-size="8.5" font-weight="bold" text-anchor="end" fill="#1c1c1c" >100</text>
<line x1="507.6" y1="249.77999999999997" x2="510.6" y2="249.77999999999997" stroke="#111" stroke-width="1.2"/>
<text x="502.40000000000003" y="252.83999999999997" font-size="8.5" font-weight="bold" text-anchor="end" fill="#1c1c1c" >120</text>
<line x1="507.6" y1="239.51" x2="510.6" y2="239.51" stroke="#111" stroke-width="1.2"/>
<text x="502.40000000000003" y="242.57" font-size="8.5" font-weight="bold" text-anchor="end" fill="#1c1c1c" >140</text>
<line x1="507.6" y1="229.23999999999998" x2="510.6" y2="229.23999999999998" stroke="#111" stroke-width="1.2"/>
<text x="502.40000000000003" y="232.29999999999998" font-size="8.5" font-weight="bold" text-anchor="end" fill="#1c1c1c" >160</text>
<line x1="507.6" y1="218.96999999999997" x2="510.6" y2="218.96999999999997" stroke="#111" stroke-width="1.2"/>
<text x="502.40000000000003" y="222.02999999999997" font-size="8.5" font-weight="bold" text-anchor="end" fill="#1c1c1c" >180</text>
<line x1="507.6" y1="208.7" x2="510.6" y2="208.7" stroke="#111" stroke-width="1.2"/>
<text x="502.40000000000003" y="211.76" font-size="8.5" font-weight="bold" text-anchor="end" fill="#1c1c1c" >200</text>
<line x1="563.4" y1="311.4" x2="563.4" y2="314.4" stroke="#111" stroke-width="1.2"/>
<line x1="616" y1="311.4" x2="616" y2="314.4" stroke="#111" stroke-width="1.2"/>
<line x1="669.1" y1="311.4" x2="669.1" y2="314.4" stroke="#111" stroke-width="1.2"/>
<rect x="519.60" y="209.70" width="5.50" height="5.50" fill="#fff" stroke="#111" stroke-width="1.35"/>
<text x="529.2" y="215.8" font-size="10" font-weight="bold" text-anchor="start" fill="#1c1c1c" >WT</text>
<rect x="519.40" y="225.20" width="6.30" height="5.40" fill="#242424" stroke="#242424" stroke-width="0"/>
<text x="529.2" y="231.5" font-size="11" font-weight="bold" text-anchor="start" fill="#1c1c1c" >HKII+/-</text>
<text transform="translate(465.2 257) rotate(-90)" font-size="10.6" font-weight="bold" text-anchor="middle" fill="#1c1c1c">ANF expression</text>
<text transform="translate(477.2 256.7) rotate(-90)" font-size="10.1" font-weight="bold" text-anchor="middle" fill="#1c1c1c">(arbitrary units)</text>
<text x="537" y="331" font-size="10.7" font-weight="bold" text-anchor="middle" fill="#1c1c1c" >Baseline</text>
<text x="589" y="331" font-size="10.7" font-weight="bold" text-anchor="middle" fill="#1c1c1c" >TAC-2W</text>
<text x="642" y="331" font-size="10.7" font-weight="bold" text-anchor="middle" fill="#1c1c1c" >TAC-4W</text>
<text x="629.7" y="271.7" font-size="15" font-weight="bold" text-anchor="middle" fill="#1c1c1c" >*</text>
<text x="643.6" y="216.2" font-size="15" font-weight="bold" text-anchor="middle" fill="#1c1c1c" >*</text>
<text x="653" y="212.9" font-size="12.3" font-weight="bold" text-anchor="middle" fill="#1c1c1c" stroke="#222" stroke-width="0.35">#</text>
<text transform="translate(461.1 360.3) scale(0.95 1)" font-size="16.5" font-weight="bold" fill="#1c1c1c">F</text>
<line x1="530.55" y1="470.974" x2="530.55" y2="467.2" stroke="#111" stroke-width="1.3"/>
<line x1="528.3499999999999" y1="467.2" x2="532.75" y2="467.2" stroke="#111" stroke-width="1.3"/>
<rect x="520.20" y="471.57" width="20.70" height="16.23" fill="#fff" stroke="#111" stroke-width="1.2"/>
<line x1="552.1" y1="476.165" x2="552.1" y2="474" stroke="#111" stroke-width="1.3"/>
<line x1="549.9" y1="474" x2="554.3000000000001" y2="474" stroke="#111" stroke-width="1.3"/>
<rect x="541.50" y="476.17" width="21.20" height="11.63" fill="#242424" stroke="#242424" stroke-width="0"/>
<line x1="587.0" y1="460.95" x2="587.0" y2="460" stroke="#111" stroke-width="1.3"/>
<line x1="584.8" y1="460" x2="589.2" y2="460" stroke="#111" stroke-width="1.3"/>
<rect x="576.80" y="461.55" width="20.40" height="26.25" fill="#fff" stroke="#111" stroke-width="1.2"/>
<line x1="608.55" y1="454.685" x2="608.55" y2="439" stroke="#111" stroke-width="1.3"/>
<line x1="606.3499999999999" y1="439" x2="610.75" y2="439" stroke="#111" stroke-width="1.3"/>
<rect x="597.80" y="454.69" width="21.50" height="33.12" fill="#242424" stroke="#242424" stroke-width="0"/>
<line x1="643.05" y1="421.928" x2="643.05" y2="401.6" stroke="#111" stroke-width="1.3"/>
<line x1="640.8499999999999" y1="401.6" x2="645.25" y2="401.6" stroke="#111" stroke-width="1.3"/>
<rect x="633.00" y="422.53" width="20.10" height="65.27" fill="#fff" stroke="#111" stroke-width="1.2"/>
<line x1="664.6" y1="386.66499999999996" x2="664.6" y2="376.3" stroke="#111" stroke-width="1.3"/>
<line x1="662.4" y1="376.3" x2="666.8000000000001" y2="376.3" stroke="#111" stroke-width="1.3"/>
<rect x="653.70" y="386.66" width="21.80" height="101.14" fill="#242424" stroke="#242424" stroke-width="0"/>
<line x1="512.9" y1="362.5" x2="512.9" y2="490.8" stroke="#111" stroke-width="1.5"/>
<line x1="509.9" y1="487.8" x2="682.3" y2="487.8" stroke="#111" stroke-width="1.5"/>
<line x1="509.9" y1="487.8" x2="512.9" y2="487.8" stroke="#111" stroke-width="1.2"/>
<text x="504.7" y="490.86" font-size="8.5" font-weight="bold" text-anchor="end" fill="#1c1c1c" >0</text>
<line x1="509.9" y1="469.90000000000003" x2="512.9" y2="469.90000000000003" stroke="#111" stroke-width="1.2"/>
<text x="504.7" y="472.96000000000004" font-size="8.5" font-weight="bold" text-anchor="end" fill="#1c1c1c" >20</text>
<line x1="509.9" y1="452.0" x2="512.9" y2="452.0" stroke="#111" stroke-width="1.2"/>
<text x="504.7" y="455.06" font-size="8.5" font-weight="bold" text-anchor="end" fill="#1c1c1c" >40</text>
<line x1="509.9" y1="434.1" x2="512.9" y2="434.1" stroke="#111" stroke-width="1.2"/>
<text x="504.7" y="437.16" font-size="8.5" font-weight="bold" text-anchor="end" fill="#1c1c1c" >60</text>
<line x1="509.9" y1="416.2" x2="512.9" y2="416.2" stroke="#111" stroke-width="1.2"/>
<text x="504.7" y="419.26" font-size="8.5" font-weight="bold" text-anchor="end" fill="#1c1c1c" >80</text>
<line x1="509.9" y1="398.3" x2="512.9" y2="398.3" stroke="#111" stroke-width="1.2"/>
<text x="504.7" y="401.36" font-size="8.5" font-weight="bold" text-anchor="end" fill="#1c1c1c" >100</text>
<line x1="509.9" y1="380.4" x2="512.9" y2="380.4" stroke="#111" stroke-width="1.2"/>
<text x="504.7" y="383.46" font-size="8.5" font-weight="bold" text-anchor="end" fill="#1c1c1c" >120</text>
<line x1="509.9" y1="362.5" x2="512.9" y2="362.5" stroke="#111" stroke-width="1.2"/>
<text x="504.7" y="365.56" font-size="8.5" font-weight="bold" text-anchor="end" fill="#1c1c1c" >140</text>
<line x1="569.5" y1="487.8" x2="569.5" y2="490.8" stroke="#111" stroke-width="1.2"/>
<line x1="626" y1="487.8" x2="626" y2="490.8" stroke="#111" stroke-width="1.2"/>
<line x1="682.3" y1="487.8" x2="682.3" y2="490.8" stroke="#111" stroke-width="1.2"/>
<rect x="521.10" y="367.40" width="5.50" height="5.50" fill="#fff" stroke="#111" stroke-width="1.35"/>
<text x="529.7" y="373.5" font-size="10.3" font-weight="bold" text-anchor="start" fill="#1c1c1c" >WT</text>
<rect x="520.90" y="380.40" width="6.10" height="5.40" fill="#242424" stroke="#242424" stroke-width="0"/>
<text x="529.7" y="386.7" font-size="10.8" font-weight="bold" text-anchor="start" fill="#1c1c1c" >HKII+/-</text>
<text transform="translate(464.7 416.8) rotate(-90)" font-size="10.6" font-weight="bold" text-anchor="middle" fill="#1c1c1c">BNP expression</text>
<text transform="translate(476 419.2) rotate(-90)" font-size="9.5" font-weight="bold" text-anchor="middle" fill="#1c1c1c">(arbitrary units)</text>
<text x="541" y="507" font-size="10.7" font-weight="bold" text-anchor="middle" fill="#1c1c1c" >Baseline</text>
<text x="597" y="507" font-size="10.7" font-weight="bold" text-anchor="middle" fill="#1c1c1c" >TAC-2W</text>
<text x="653" y="507" font-size="10.7" font-weight="bold" text-anchor="middle" fill="#1c1c1c" >TAC-4W</text>
<text x="638.5" y="389.5" font-size="15" font-weight="bold" text-anchor="middle" fill="#1c1c1c" >*</text>
<text x="657.7" y="363.6" font-size="15" font-weight="bold" text-anchor="middle" fill="#1c1c1c" >*</text>
<text x="666.4" y="360.3" font-size="12.3" font-weight="bold" text-anchor="middle" fill="#1c1c1c" stroke="#222" stroke-width="0.35">#</text>
</g>
</svg>
</body></html>
